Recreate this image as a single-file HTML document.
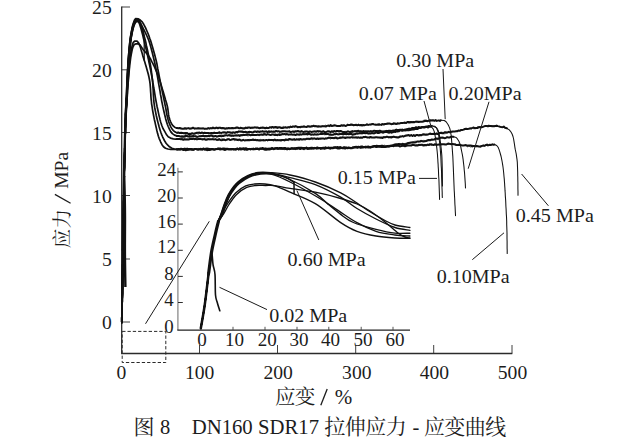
<!DOCTYPE html>
<html lang="zh">
<head>
<meta charset="utf-8">
<title>图 8 DN160 SDR17 拉伸应力 - 应变曲线</title>
<style>
html,body{margin:0;padding:0;background:#fff;}
body{width:631px;height:443px;overflow:hidden;font-family:"Liberation Serif",serif;}
svg{display:block;}
svg text{font-family:"Liberation Serif","Noto Serif CJK SC",serif;}
</style>
</head>
<body>
<svg width="631" height="443" viewBox="0 0 631 443" role="img" aria-label="图 8 DN160 SDR17 拉伸应力 - 应变曲线">
<rect width="631" height="443" fill="#fff"/>
<g fill="none" stroke="#2b2b2b" stroke-width="0.9">
<path d="M121.7 6.5V353.5H512.3" stroke-width="1.3"/>
<path d="M121.7 7.0H130"/>
<path d="M121.7 69.8H130"/>
<path d="M121.7 132.5H130"/>
<path d="M121.7 195.5H130"/>
<path d="M121.7 259.0H130"/>
<path d="M121.7 322.0H130"/>
<path d="M199.5 353.5V345"/>
<path d="M277.5 353.5V345"/>
<path d="M355.7 353.5V345"/>
<path d="M433.7 353.5V345"/>
<path d="M512.0 353.5V345"/>
</g>
<g fill="none" stroke-width="1">
<path d="M177.9 167.7V330" stroke="#8a8a8a" stroke-width="1.3"/>
<path d="M177.3 330.1H410" stroke="#222" stroke-width="1.3"/>
<path d="M178 171.9H182.8" stroke="#222" stroke-width="0.95"/>
<path d="M178 198.0H182.8" stroke="#222" stroke-width="0.95"/>
<path d="M178 224.1H182.8" stroke="#222" stroke-width="0.95"/>
<path d="M178 250.3H182.8" stroke="#222" stroke-width="0.95"/>
<path d="M178 276.4H182.8" stroke="#222" stroke-width="0.95"/>
<path d="M178 302.5H182.8" stroke="#222" stroke-width="0.95"/>
<path d="M201.0 330V326.8" stroke="#444" stroke-width="0.9"/>
<path d="M233.0 330V326.8" stroke="#444" stroke-width="0.9"/>
<path d="M265.0 330V326.8" stroke="#444" stroke-width="0.9"/>
<path d="M297.0 330V326.8" stroke="#444" stroke-width="0.9"/>
<path d="M328.8 330V326.8" stroke="#444" stroke-width="0.9"/>
<path d="M361.2 330V326.8" stroke="#444" stroke-width="0.9"/>
<path d="M393.0 330V326.8" stroke="#444" stroke-width="0.9"/>
</g>
<path d="M122.2 331.4H165.8V362.5H122.2Z" fill="none" stroke="#2a2a2a" stroke-width="1" stroke-dasharray="3.3 2"/>
<g fill="none" stroke="#111" stroke-width="1.25" stroke-linejoin="round" stroke-linecap="round">
<path d="M200.8 328.2 C201.5 324.2 203.5 313.7 204.8 304.5 C206.1 295.3 207.6 281.7 208.7 272.9 C209.8 264.1 210.5 258.3 211.6 251.8 C212.7 245.3 214.3 239.1 215.4 234.0 C216.5 228.9 217.4 224.9 218.4 221.5 C219.4 218.1 220.1 216.4 221.1 213.4 C222.1 210.4 223.2 206.9 224.4 203.7 C225.6 200.5 226.9 197.2 228.4 194.4 C229.9 191.7 231.5 189.3 233.1 187.2 C234.7 185.1 235.7 183.6 238.1 181.7 C240.5 179.8 244.3 177.1 247.6 175.6 C251.0 174.1 254.3 173.0 258.2 172.5 C262.1 172.0 265.5 172.2 270.8 172.6 C276.1 173.0 282.6 173.4 290.0 175.0 C297.4 176.6 306.9 179.0 315.3 182.0 C323.8 185.0 333.8 189.3 340.7 192.8 C347.6 196.3 352.1 199.8 357.0 203.0 C361.9 206.2 365.3 208.9 370.0 211.8 C374.7 214.7 380.8 218.3 385.0 220.5 C389.2 222.7 390.9 223.8 395.0 225.0 C399.1 226.2 407.4 227.1 409.9 227.5" stroke-width="1.35"/>
<path d="M200.8 328.2 C201.5 324.2 203.5 313.7 204.8 304.5 C206.1 295.3 207.6 281.7 208.7 272.9 C209.8 264.1 210.5 258.3 211.6 251.8 C212.7 245.3 214.3 239.1 215.4 234.0 C216.5 228.9 217.4 224.8 218.4 221.5 C219.4 218.2 220.4 216.8 221.5 213.9 C222.6 211.0 223.6 207.4 224.8 204.2 C226.0 201.0 227.3 197.7 228.8 194.9 C230.2 192.2 231.9 189.8 233.5 187.7 C235.1 185.6 236.1 184.1 238.5 182.2 C240.9 180.3 244.7 177.6 248.0 176.1 C251.3 174.6 254.7 173.5 258.6 173.0 C262.5 172.5 266.0 172.3 271.2 173.1 C276.4 173.9 282.6 175.7 290.0 177.6 C297.4 179.5 306.9 181.3 315.3 184.6 C323.8 187.9 333.8 193.2 340.7 197.2 C347.6 201.2 351.1 204.9 357.0 208.5 C362.9 212.1 369.7 215.8 376.0 219.0 C382.3 222.2 389.4 225.6 395.0 227.5 C400.6 229.4 407.4 229.8 409.9 230.3" stroke-width="1.35"/>
<path d="M200.8 328.2 C201.5 324.2 203.5 313.7 204.8 304.5 C206.1 295.3 207.6 281.7 208.7 272.9 C209.8 264.1 210.5 258.3 211.6 251.8 C212.7 245.3 214.3 239.1 215.4 234.0 C216.5 228.9 217.3 224.8 218.4 221.5 C219.5 218.2 220.8 217.3 221.9 214.5 C223.0 211.7 224.0 208.0 225.2 204.8 C226.4 201.6 227.8 198.2 229.2 195.5 C230.6 192.8 232.3 190.4 233.9 188.3 C235.5 186.2 236.5 184.7 238.9 182.8 C241.3 180.9 245.1 178.2 248.4 176.7 C251.8 175.2 255.1 174.1 259.0 173.6 C262.9 173.1 266.4 172.7 271.6 173.7 C276.8 174.7 282.7 176.2 290.0 179.5 C297.3 182.8 309.0 189.3 315.3 193.4 C321.6 197.5 323.8 200.7 328.0 204.2 C332.2 207.7 336.5 211.3 340.7 214.4 C344.9 217.5 347.5 220.0 353.4 222.5 C359.3 225.0 369.1 227.6 376.0 229.4 C382.9 231.2 389.4 232.6 395.0 233.2 C400.6 233.8 407.4 233.2 409.9 233.2" stroke-width="1.35"/>
<path d="M200.8 328.2 C201.5 324.2 203.5 313.7 204.8 304.5 C206.1 295.3 207.6 281.7 208.7 272.9 C209.8 264.1 210.5 258.3 211.6 251.8 C212.7 245.3 214.3 239.1 215.4 234.0 C216.5 228.9 217.2 224.6 218.4 221.5 C219.6 218.4 221.1 217.9 222.3 215.2 C223.5 212.5 224.4 208.7 225.6 205.5 C226.8 202.3 228.1 198.9 229.6 196.2 C231.1 193.4 232.7 191.1 234.3 189.0 C235.9 186.9 236.9 185.4 239.3 183.5 C241.7 181.6 245.5 178.9 248.8 177.4 C252.2 175.9 255.5 174.8 259.4 174.3 C263.3 173.8 266.9 173.1 272.0 174.4 C277.1 175.7 282.2 178.1 290.0 182.0 C297.8 185.9 311.0 193.3 319.0 198.0 C327.0 202.7 331.7 206.3 338.0 210.4 C344.3 214.5 350.7 219.2 357.0 222.7 C363.3 226.2 369.7 229.2 376.0 231.3 C382.3 233.4 389.4 234.2 395.0 235.0 C400.6 235.8 407.4 235.8 409.9 236.0" stroke-width="1.35"/>
<path d="M200.8 328.2 C201.5 324.2 203.5 313.7 204.8 304.5 C206.1 295.3 207.6 281.7 208.7 272.9 C209.8 264.1 210.5 258.3 211.6 251.8 C212.7 245.3 214.3 239.1 215.4 234.0 C216.5 228.9 217.4 224.8 218.4 221.5 C219.4 218.2 220.0 217.1 221.6 214.0 C223.2 210.9 225.7 206.5 228.0 203.0 C230.3 199.5 232.7 195.8 235.6 192.9 C238.5 190.1 242.5 187.4 245.7 185.9 C248.9 184.4 251.4 184.3 254.6 184.0 C257.8 183.7 261.3 183.7 264.7 184.0 C268.1 184.3 270.6 184.5 274.8 185.9 C279.0 187.3 283.2 189.2 290.0 192.2 C296.8 195.1 306.9 198.5 315.3 203.6 C323.8 208.7 333.8 218.0 340.7 222.6 C347.6 227.2 351.1 229.1 357.0 231.3 C362.9 233.5 369.7 234.9 376.0 236.0 C382.3 237.1 389.4 237.6 395.0 238.0 C400.6 238.4 407.4 238.2 409.9 238.3" stroke-width="1.35"/>
<path d="M200.8 328.2 C201.5 324.2 203.5 313.7 204.8 304.5 C206.1 295.3 207.6 281.7 208.7 272.9 C209.8 264.1 210.5 258.3 211.6 251.8 C212.7 245.3 214.3 239.1 215.4 234.0 C216.5 228.9 217.2 224.6 218.4 221.5 C219.6 218.4 220.8 218.3 222.6 215.5 C224.4 212.7 226.7 208.0 229.0 204.5 C231.3 201.0 233.7 197.2 236.6 194.4 C239.5 191.6 243.5 188.9 246.7 187.4 C249.9 185.9 252.4 185.8 255.6 185.5 C258.8 185.2 262.5 185.5 265.7 185.5 C268.9 185.5 270.8 185.1 274.8 185.6 C278.9 186.1 283.2 187.3 290.0 188.4 C296.8 189.5 306.9 190.5 315.3 192.2 C323.8 193.9 333.8 196.5 340.7 198.5 C347.6 200.5 352.1 201.9 357.0 204.0 C361.9 206.1 365.3 208.0 370.0 211.0 C374.7 214.0 380.3 218.3 385.0 222.0 C389.7 225.7 394.7 230.5 398.0 233.0 C401.3 235.5 403.0 236.2 405.0 237.0 C407.0 237.8 409.1 237.8 409.9 238.0" stroke-width="1.35"/>
<path d="M200.8 328.2 C201.5 324.2 203.5 313.7 204.8 304.5 C206.1 295.3 207.6 281.7 208.7 272.9 C209.8 264.1 210.5 258.3 211.6 251.8 C212.7 245.3 214.3 239.1 215.4 234.0 C216.5 228.9 217.3 224.8 218.4 221.5 C219.5 218.2 220.6 217.1 221.7 214.3 C222.8 211.5 223.8 207.8 225.0 204.6 C226.2 201.4 227.6 198.1 229.0 195.3 C230.4 192.6 232.1 190.2 233.7 188.1 C235.3 186.0 236.3 184.5 238.7 182.6 C241.1 180.7 244.9 178.0 248.2 176.5 C251.6 175.0 254.9 173.9 258.8 173.4 C262.7 172.9 267.0 172.9 271.4 173.5 C275.8 174.1 281.2 175.7 285.0 177.2 C288.8 178.7 292.5 181.5 294.0 182.3" stroke-width="1.35"/>
<path d="M200.8 328.2 C201.5 324.2 203.5 313.7 204.8 304.5 C206.1 295.3 207.6 281.4 208.7 272.9 C209.8 264.4 210.9 254.8 211.6 253.5 C212.3 252.2 212.5 261.5 213.1 265.0 C213.7 268.5 214.6 269.5 215.0 274.5 C215.4 279.5 215.1 290.2 215.5 295.0 C215.9 299.8 216.7 300.4 217.4 303.0 C218.1 305.6 219.4 309.5 219.8 310.8" stroke-width="1.6"/>
<path d="M200.8 328.2 C201.5 324.2 203.5 313.7 204.8 304.5 C206.1 295.3 208.0 278.2 208.7 272.9" stroke-width="2.5"/>
<path d="M208.7 272.9 C209.2 269.4 210.5 258.3 211.6 251.8 C212.7 245.3 214.3 239.1 215.4 234.0 C216.5 228.9 217.9 223.6 218.4 221.5" stroke-width="3.2"/>
<path d="M218.4 221.5 C219.0 220.3 220.7 217.0 221.8 214.2 C222.9 211.4 224.0 207.7 225.2 204.5 C226.4 201.3 228.5 196.8 229.2 195.3" stroke-width="2.5"/>
<path d="M294.0 182.3 L294.1 193.7" stroke-width="1.5"/>
<path d="M121.8 322.4 L121.8 321.1 L121.8 319.5 L121.8 317.8 L121.9 316.0 L121.9 313.9 L122.0 311.7 L122.0 309.4 L122.1 307.0 L122.1 304.4 L122.2 301.8 L122.2 299.1 L122.3 296.3 L122.4 293.5 L122.4 290.6 L122.5 287.7 L122.5 284.8 L122.6 281.9 L122.6 279.0 L122.7 276.2 L122.7 274.0 L122.7 271.8 L122.8 269.5 L122.8 267.1 L122.8 264.7 L122.9 262.3 L122.9 259.8 L123.0 257.3 L123.0 254.7 L123.0 252.1 L123.1 249.6 L123.1 247.0 L123.1 244.4 L123.2 241.8 L123.2 239.2 L123.2 236.6 L123.3 234.1 L123.3 231.6 L123.3 229.1 L123.4 226.7 L123.4 224.4 L123.4 222.1 L123.5 219.8 L123.5 217.6 L123.5 215.5 L123.6 213.0 L123.6 210.1 L123.7 207.3 L123.7 204.6 L123.7 202.0 L123.8 199.5 L123.8 197.0 L123.9 194.6 L123.9 192.2 L123.9 190.0 L124.0 187.7 L124.0 185.5 L124.0 183.3 L124.1 181.1 L124.1 178.9 L124.2 176.7 L124.2 174.5 L124.2 172.0 L124.3 169.3 L124.4 166.6 L124.4 164.0 L124.5 161.4 L124.6 158.8 L124.6 156.2 L124.7 153.7 L124.8 151.2 L124.8 148.8 L124.9 146.4 L124.9 144.1 L125.0 141.9 L125.1 139.7 L125.1 137.2 L125.2 134.3 L125.3 131.6 L125.3 128.9 L125.4 126.4 L125.5 124.0 L125.5 121.6 L125.6 119.4 L125.7 117.3 L125.7 115.2 L125.8 112.7 L125.9 110.1 L126.0 107.8 L126.2 105.7 L126.3 103.5 L126.4 101.0 L126.6 98.5 L126.8 96.2 L126.9 93.7 L127.1 91.2 L127.3 88.5 L127.5 85.9 L127.7 83.2 L127.9 80.6 L128.1 78.2 L128.3 75.6 L128.5 73.0 L128.7 70.4 L129.0 67.8 L129.2 65.3 L129.4 62.9 L129.7 60.6 L129.9 58.5 L130.4 55.5 L130.8 52.6 L131.3 50.0 L131.7 47.6 L132.2 45.6 L133.1 42.7 L134.6 41.1 L137.0 41.1 L138.6 42.8 L139.8 45.6 L140.5 47.5 L141.1 49.8 L141.9 52.4 L142.7 55.4 L143.5 58.0 L144.1 60.0 L144.8 62.1 L145.5 64.4 L146.2 66.8 L146.9 69.2 L147.6 71.7 L148.3 74.2 L148.9 76.8 L149.4 79.3 L149.8 81.6 L150.1 84.0 L150.3 86.4 L150.5 88.9 L150.6 91.3 L150.8 93.8 L150.9 96.3 L151.1 98.8 L151.4 101.3 L151.6 103.8 L152.0 106.2 L152.4 108.8 L152.8 111.3 L153.3 114.0 L153.8 116.6 L154.3 119.2 L154.9 121.7 L155.4 124.1 L155.9 126.3 L156.4 128.4 L156.8 130.3 L157.6 133.6 L158.4 136.2 L159.1 138.3 L159.9 140.1 L160.6 141.8 L162.0 144.7 L163.5 146.7 L165.5 148.2 L167.9 149.0 L170.8 149.4 L173.2 149.5 L175.9 149.4 L177.2 149.4" stroke-width="1.7"/>
<path d="M177.2 149.4 L178.6 149.0 L180.0 149.4 L181.2 148.7 L182.4 149.1 L183.5 148.9 L184.7 148.6 L186.0 149.0 L187.2 148.6 L188.6 149.1 L190.0 148.9 L191.1 149.0 L192.2 149.3 L193.4 149.7 L194.6 149.0 L195.8 149.1 L197.1 149.4 L198.3 149.6 L199.6 149.1 L200.9 148.8 L202.1 149.4 L203.3 148.4 L204.5 149.2 L205.8 148.7 L207.0 148.6 L208.2 148.7 L209.4 149.0 L210.6 149.5 L211.8 148.9 L213.0 149.4 L214.2 149.4 L215.5 149.1 L216.7 149.1 L217.9 148.6 L219.1 148.5 L220.3 148.5 L221.5 148.9 L222.7 148.6 L223.9 148.5 L225.2 148.8 L226.4 148.8 L227.6 148.7 L228.8 149.3 L230.0 149.3 L231.2 148.9 L232.4 149.2 L233.6 149.1 L234.8 149.4 L236.1 149.2 L237.3 148.6 L238.5 149.2 L239.7 148.3 L240.9 148.5 L242.1 148.8 L243.3 148.2 L244.5 148.6 L245.8 148.2 L247.0 148.9 L248.2 149.1 L249.4 149.0 L250.6 149.3 L251.8 148.8 L253.0 149.2 L254.2 149.0 L255.5 148.9 L256.7 148.7 L257.9 149.0 L259.1 149.0 L260.3 148.4 L261.5 148.6 L262.7 148.0 L263.9 148.7 L265.2 148.7 L266.4 149.1 L267.6 149.0 L268.8 148.6 L270.0 148.7 L271.2 149.0 L272.4 148.3 L273.6 148.7 L274.8 148.3 L276.1 148.2 L277.3 148.0 L278.5 148.6 L279.7 147.9 L280.9 148.0 L282.1 148.1 L283.3 148.6 L284.5 147.9 L285.8 148.3 L287.0 148.5 L288.2 148.9 L289.4 148.9 L290.6 149.0 L291.8 148.3 L293.0 148.4 L294.2 148.3 L295.5 148.7 L296.7 148.7 L297.9 147.8 L299.1 147.7 L300.3 147.7 L301.5 147.7 L302.7 148.0 L303.9 148.1 L305.2 147.9 L306.4 147.7 L307.6 148.2 L308.8 148.2 L310.0 148.4 L311.2 148.8 L312.4 148.5 L313.6 148.2 L314.8 148.2 L316.1 148.1 L317.3 147.4 L318.5 148.2 L319.7 148.0 L320.9 148.1 L322.1 148.0 L323.3 147.7 L324.5 147.8 L325.8 147.6 L327.0 148.2 L328.2 147.6 L329.4 147.7 L330.6 147.8 L331.8 147.7 L333.0 147.8 L334.2 147.4 L335.5 147.2 L336.7 147.3 L337.9 147.1 L339.1 147.4 L340.3 147.0 L341.5 147.9 L342.7 147.7 L343.9 147.3 L345.2 147.5 L346.4 147.7 L347.6 147.7 L348.8 147.5 L350.0 148.2 L351.2 148.3 L352.4 147.6 L353.6 147.5 L354.8 146.9 L356.1 146.8 L357.3 146.9 L358.5 146.7 L359.7 147.2 L360.9 146.5 L362.1 146.4 L363.3 147.3 L364.5 146.9 L365.8 146.6 L367.0 147.0 L368.2 146.5 L369.4 146.9 L370.6 147.3 L371.8 147.0 L373.0 146.7 L374.2 146.1 L375.5 146.1 L376.7 145.7 L377.9 146.2 L379.1 145.9 L380.3 146.2 L381.4 145.8 L382.6 145.7 L383.8 146.3 L385.0 146.5 L386.2 146.4 L387.5 146.4 L388.7 146.3 L390.0 146.1 L391.2 145.4 L392.4 145.4 L393.6 145.0 L394.9 144.4 L396.1 144.2 L397.4 144.2 L398.7 144.0 L399.9 144.3 L401.2 144.4 L402.5 143.8 L403.7 144.2 L405.0 144.2 L406.2 144.1 L407.4 143.3 L408.6 143.0 L409.8 142.8 L411.0 142.6 L412.2 142.3 L413.4 142.5 L414.6 142.5 L415.9 142.2 L417.2 141.6 L418.6 141.6 L420.0 141.6 L421.1 140.8 L422.3 141.3 L423.5 141.4 L424.8 141.2 L426.1 141.0 L427.4 140.5 L428.8 140.0 L430.1 140.3 L431.4 139.5 L432.8 139.7 L434.1 139.6 L435.3 138.7 L436.6 138.5 L437.8 138.8 L438.9 138.5 L440.0 137.8 L441.5 137.7 L443.0 137.6 L444.4 138.2 L445.7 138.0 L447.1 137.1 L448.3 137.6 L449.5 137.6 L450.6 137.0 L451.6 136.6 L452.6 136.7 L453.4 136.7" stroke-width="2"/>
<path d="M181.2 148.2 L182.4 149.4 L183.5 149.5 L184.7 150.1 L186.0 149.1 L187.2 148.7 L188.6 149.4 L190.0 149.0 L191.1 150.1 L192.2 149.1 L193.4 149.4 L194.6 150.1 L195.8 149.2 L197.1 148.9 L198.3 148.4 L199.6 149.8 L200.9 149.1 L202.1 149.1 L203.3 149.1 L204.5 149.3 L205.8 149.2 L207.0 148.6 L208.2 149.1 L209.4 149.2 L210.6 149.0 L211.8 149.0 L213.0 149.1 L214.2 149.0 L215.5 149.3 L216.7 149.2 L217.9 148.8 L219.1 149.2 L220.3 148.8 L221.5 148.8 L222.7 148.4 L223.9 149.3 L225.2 149.2 L226.4 149.4 L227.6 148.7 L228.8 149.2 L230.0 149.9 L231.2 148.9 L232.4 149.1 L233.6 148.7 L234.8 148.8 L236.1 148.4 L237.3 148.6 L238.5 148.8 L239.7 148.4 L240.9 148.8 L242.1 149.9 L243.3 149.1 L244.5 148.3 L245.8 149.4 L247.0 147.9 L248.2 149.7 L249.4 148.6 L250.6 149.7 L251.8 148.9 L253.0 147.7 L254.2 148.7 L255.5 149.7 L256.7 148.9 L257.9 149.5 L259.1 149.5 L260.3 148.6 L261.5 148.9 L262.7 147.8 L263.9 148.5 L265.2 147.9 L266.4 147.9 L267.6 148.2 L268.8 148.5 L270.0 148.4 L271.2 147.5 L272.4 147.5 L273.6 148.6 L274.8 148.5 L276.1 148.3 L277.3 148.5 L278.5 148.7 L279.7 148.5 L280.9 148.8 L282.1 149.2 L283.3 148.5 L284.5 148.1 L285.8 147.6 L287.0 148.9 L288.2 147.6 L289.4 149.1 L290.6 148.4 L291.8 147.7 L293.0 148.2 L294.2 148.2 L295.5 149.3 L296.7 148.3 L297.9 149.3 L299.1 147.9 L300.3 147.9 L301.5 148.2 L302.7 148.2 L303.9 147.6 L305.2 147.9 L306.4 147.0 L307.6 147.5 L308.8 148.1 L310.0 148.2 L311.2 148.3 L312.4 147.7 L313.6 147.8 L314.8 148.1 L316.1 148.8 L317.3 148.1 L318.5 148.2 L319.7 148.0 L320.9 148.2 L322.1 148.1 L323.3 148.2 L324.5 148.0 L325.8 146.8 L327.0 147.6 L328.2 148.6 L329.4 147.9 L330.6 148.0 L331.8 147.5 L333.0 148.0 L334.2 147.8 L335.5 147.5 L336.7 147.6 L337.9 147.2 L339.1 147.6 L340.3 148.0 L341.5 147.7 L342.7 147.8 L343.9 147.8 L345.2 147.4 L346.4 147.1 L347.6 147.5 L348.8 147.3 L350.0 147.1 L351.2 147.7 L352.4 147.4 L353.6 147.4 L354.8 147.2 L356.1 147.2 L357.3 147.5 L358.5 147.1 L359.7 147.4 L360.9 146.5 L362.1 148.0 L363.3 147.1 L364.5 146.9 L365.8 146.6 L367.0 146.8 L368.2 146.8 L369.4 147.5 L370.6 146.3 L371.8 146.5 L373.0 146.3 L374.2 146.0 L375.5 147.1 L376.7 146.8 L377.9 146.0 L379.1 146.3 L380.3 146.0 L381.4 145.8 L382.6 146.1 L383.8 145.8 L385.0 144.9 L386.2 146.7 L387.5 146.8 L388.7 145.2 L390.0 145.4 L391.2 146.5 L392.4 145.5 L393.6 145.4 L394.9 145.0 L396.1 144.6 L397.4 144.6 L398.7 144.6 L399.9 143.2 L401.2 143.9 L402.5 143.8 L403.7 144.3 L405.0 143.4 L406.2 143.3 L407.4 143.2 L408.6 142.3 L409.8 143.8 L411.0 142.6 L412.2 142.9 L413.4 141.6 L414.6 141.3 L415.9 141.2 L417.2 141.4 L418.6 141.9 L420.0 141.4 L421.1 141.4 L422.3 140.8 L423.5 140.4 L424.8 140.5 L426.1 140.6 L427.4 140.1 L428.8 139.5 L430.1 139.7 L431.4 139.9 L432.8 139.1 L434.1 139.7 L435.3 139.0 L436.6 138.5 L437.8 139.6 L438.9 138.7 L440.0 138.1 L441.5 137.3 L443.0 138.0 L444.4 137.8" stroke-width="0.8" stroke-opacity="0.85"/>
<path d="M453.4 136.7 L456.2 137.5 L457.6 139.2 L458.9 141.3 L460.0 144.0 L460.7 146.4 L461.2 149.1 L461.8 152.0 L462.3 154.4 L462.7 156.7 L463.1 159.4 L463.4 162.1 L463.7 164.5 L464.0 167.1 L464.2 169.8 L464.5 172.4 L464.7 175.0 L464.9 177.9 L465.1 180.9 L465.3 183.8 L465.4 186.2 L465.5 188.0 L465.5 188.0" stroke-width="1.05"/>
<path d="M121.8 322.4 L121.8 321.1 L121.8 319.5 L121.8 317.8 L121.9 316.0 L121.9 313.9 L122.0 311.7 L122.0 309.4 L122.1 307.0 L122.1 304.4 L122.2 301.8 L122.2 299.1 L122.3 296.3 L122.4 293.5 L122.4 290.6 L122.5 287.7 L122.5 284.8 L122.6 281.9 L122.6 279.0 L122.7 276.2 L122.7 274.0 L122.7 271.8 L122.8 269.5 L122.8 267.1 L122.8 264.7 L122.9 262.3 L122.9 259.8 L123.0 257.3 L123.0 254.7 L123.0 252.1 L123.1 249.6 L123.1 247.0 L123.1 244.4 L123.2 241.8 L123.2 239.2 L123.2 236.6 L123.3 234.1 L123.3 231.6 L123.3 229.1 L123.4 226.7 L123.4 224.4 L123.4 222.1 L123.5 219.8 L123.5 217.6 L123.5 215.5 L123.6 213.0 L123.6 210.1 L123.7 207.3 L123.7 204.6 L123.7 202.0 L123.8 199.5 L123.8 197.0 L123.9 194.6 L123.9 192.2 L123.9 190.0 L124.0 187.7 L124.0 185.5 L124.0 183.3 L124.1 181.1 L124.1 178.9 L124.2 176.7 L124.2 174.5 L124.2 172.0 L124.3 169.3 L124.4 166.6 L124.4 164.0 L124.5 161.4 L124.6 158.8 L124.6 156.2 L124.7 153.7 L124.8 151.2 L124.8 148.8 L124.9 146.4 L124.9 144.1 L125.0 141.9 L125.1 139.7 L125.1 137.2 L125.2 134.3 L125.3 131.6 L125.3 128.9 L125.4 126.4 L125.5 123.9 L125.5 121.6 L125.6 119.3 L125.7 117.2 L125.7 115.2 L125.8 112.6 L126.0 109.9 L126.1 107.6 L126.3 105.5 L126.5 103.2 L126.6 100.6 L126.7 98.3 L126.8 95.9 L126.9 93.4 L127.0 90.7 L127.1 88.1 L127.2 85.5 L127.3 82.9 L127.5 80.4 L127.6 77.9 L127.7 75.4 L127.8 72.9 L128.0 70.4 L128.1 68.0 L128.2 65.7 L128.4 63.5 L128.6 60.7 L128.8 58.0 L129.0 55.4 L129.2 53.0 L129.4 50.6 L129.7 48.0 L129.9 45.3 L130.2 42.7 L130.5 40.1 L130.9 37.6 L131.4 35.1 L131.8 32.5 L132.3 30.0 L132.8 27.8 L133.6 25.2 L134.6 22.5 L135.7 20.8 L138.7 21.0 L139.5 22.3 L140.3 24.0 L141.2 26.1 L142.2 28.9 L143.2 32.3 L143.7 34.1 L144.2 36.2 L144.8 38.4 L145.4 40.8 L146.0 43.3 L146.5 45.9 L147.1 48.5 L147.7 51.1 L148.2 53.6 L148.7 56.1 L149.2 58.4 L149.7 60.8 L150.1 63.5 L150.6 66.0 L151.0 68.4 L151.3 70.7 L151.6 73.0 L151.9 75.4 L152.2 77.9 L152.5 80.5 L152.7 82.8 L152.9 85.2 L153.0 87.6 L153.2 90.1 L153.3 92.6 L153.4 95.2 L153.6 97.7 L153.7 100.2 L154.0 102.6 L154.3 105.0 L154.7 107.5 L155.2 110.1 L155.7 112.7 L156.2 115.2 L156.8 117.8 L157.4 120.2 L158.0 122.6 L158.6 124.8 L159.1 126.8 L159.9 129.4 L160.8 132.2 L161.7 134.6 L162.6 136.8 L163.5 138.7 L164.4 140.5 L166.1 143.2 L167.8 145.2 L169.5 146.8 L171.9 148.3 L174.6 149.0 L176.9 149.3 L176.9 149.3" stroke-width="1.7"/>
<path d="M176.9 149.3 L178.1 149.5 L179.4 149.2 L180.7 149.5 L182.0 149.1 L183.2 150.0 L184.4 149.5 L185.6 150.3 L186.9 150.0 L188.4 149.7 L190.0 149.4 L191.0 149.5 L192.1 149.8 L193.3 149.7 L194.5 149.0 L195.7 148.9 L197.0 149.3 L198.3 149.4 L199.6 149.2 L200.8 149.1 L202.1 149.6 L203.3 149.1 L204.5 149.5 L205.8 149.7 L207.0 150.2 L208.2 149.8 L209.4 150.0 L210.6 149.5 L211.8 149.2 L213.0 149.1 L214.2 149.7 L215.5 149.4 L216.7 149.0 L217.9 148.7 L219.1 149.2 L220.3 149.4 L221.5 149.3 L222.7 149.2 L223.9 149.7 L225.2 150.0 L226.4 149.3 L227.6 149.1 L228.8 149.3 L230.0 149.3 L231.2 149.5 L232.4 148.9 L233.6 149.4 L234.8 149.3 L236.1 149.0 L237.3 148.7 L238.5 149.5 L239.7 148.9 L240.9 149.5 L242.1 149.0 L243.3 149.1 L244.5 149.7 L245.8 149.2 L247.0 149.9 L248.2 149.4 L249.4 149.0 L250.6 148.9 L251.8 149.0 L253.0 149.1 L254.2 149.3 L255.5 148.5 L256.7 148.8 L257.9 148.6 L259.1 149.4 L260.3 148.7 L261.5 148.7 L262.7 148.8 L263.9 149.2 L265.2 149.7 L266.4 149.7 L267.6 149.5 L268.8 149.6 L270.0 149.5 L271.2 148.8 L272.4 148.5 L273.6 149.2 L274.8 148.9 L276.1 148.2 L277.3 148.9 L278.5 148.6 L279.7 148.7 L280.9 148.7 L282.1 148.7 L283.3 148.5 L284.5 148.8 L285.8 148.9 L287.0 149.4 L288.2 148.5 L289.4 149.2 L290.6 148.4 L291.8 148.4 L293.0 148.8 L294.2 148.7 L295.5 148.3 L296.7 148.0 L297.9 148.5 L299.1 148.4 L300.3 149.1 L301.5 148.4 L302.7 148.6 L303.9 149.2 L305.2 148.3 L306.4 148.6 L307.6 148.9 L308.8 148.8 L310.0 147.9 L311.2 147.8 L312.4 147.8 L313.6 148.6 L314.8 147.9 L316.1 148.4 L317.3 148.6 L318.5 148.1 L319.7 148.1 L320.9 148.9 L322.1 148.6 L323.3 148.3 L324.5 148.7 L325.8 148.3 L327.0 148.1 L328.2 147.8 L329.4 148.4 L330.6 148.4 L331.8 148.1 L333.0 148.3 L334.2 147.4 L335.5 147.6 L336.7 147.9 L337.9 148.5 L339.1 148.6 L340.3 148.1 L341.5 148.0 L342.7 148.2 L343.9 148.2 L345.2 148.6 L346.4 147.8 L347.6 148.3 L348.8 148.1 L350.0 148.1 L351.2 147.9 L352.4 147.7 L353.6 147.4 L354.8 147.3 L356.1 147.4 L357.3 147.8 L358.5 147.2 L359.7 147.3 L360.9 147.9 L362.1 147.4 L363.3 147.2 L364.5 147.1 L365.8 147.5 L367.0 147.1 L368.2 147.6 L369.4 147.4 L370.6 147.4 L371.8 146.6 L373.0 146.3 L374.2 146.3 L375.5 146.7 L376.7 147.0 L377.9 146.8 L379.1 146.6 L380.3 146.8 L381.4 147.0 L382.6 147.0 L383.8 147.0 L385.0 147.0 L386.2 146.7 L387.5 146.0 L388.7 146.6 L390.0 145.9 L391.2 146.1 L392.4 145.8 L393.6 146.2 L394.9 145.6 L396.1 145.7 L397.4 145.8 L398.7 145.7 L399.9 146.5 L401.2 146.1 L402.5 145.8 L403.7 145.8 L405.0 146.3 L406.2 145.6 L407.5 145.2 L408.8 145.6 L410.0 145.4 L411.2 145.6 L412.5 144.7 L413.8 145.0 L415.0 145.4 L416.2 145.5 L417.5 145.6 L418.8 144.8 L420.0 145.0 L421.2 144.8 L422.5 144.8 L423.8 145.5 L425.0 145.0 L426.2 145.3 L427.5 144.6 L428.8 145.0 L430.0 144.5 L431.2 144.2 L432.5 144.8 L433.8 145.0 L435.0 144.2 L436.3 144.7 L437.5 144.8 L438.8 144.4 L440.1 144.6 L441.4 144.3 L442.7 144.3 L443.9 144.2 L445.2 144.5 L446.4 144.4 L447.6 143.8 L448.8 143.6 L450.0 143.9 L451.4 144.3 L452.7 143.9 L453.9 144.2 L455.2 144.3 L456.4 145.1 L457.6 145.0 L458.8 144.7 L460.0 144.9 L461.3 145.3 L462.5 145.5 L463.7 145.6 L465.0 145.1 L466.2 145.2 L467.5 145.7 L468.7 145.5 L470.0 145.5 L471.2 145.6 L472.5 146.4 L473.7 145.9 L475.0 146.3 L476.3 146.1 L477.7 146.2 L479.1 146.6 L480.5 146.7 L481.9 145.9 L483.3 145.5 L484.6 145.8 L485.8 145.0 L487.0 144.6 L488.0 145.4 L489.8 144.7 L491.2 144.9 L492.4 144.3 L493.4 144.8 L494.4 144.5" stroke-width="2"/>
<path d="M180.7 149.4 L182.0 149.7 L183.2 149.9 L184.4 149.9 L185.6 149.7 L186.9 149.1 L188.4 149.9 L190.0 149.6 L191.0 149.9 L192.1 148.7 L193.3 149.9 L194.5 149.3 L195.7 149.5 L197.0 149.6 L198.3 149.3 L199.6 149.4 L200.8 150.3 L202.1 149.3 L203.3 149.3 L204.5 149.4 L205.8 148.9 L207.0 149.7 L208.2 149.6 L209.4 149.2 L210.6 149.2 L211.8 149.5 L213.0 149.3 L214.2 149.6 L215.5 149.8 L216.7 149.3 L217.9 149.7 L219.1 149.2 L220.3 149.5 L221.5 149.2 L222.7 149.1 L223.9 149.2 L225.2 149.2 L226.4 149.1 L227.6 149.1 L228.8 149.5 L230.0 149.0 L231.2 149.2 L232.4 149.1 L233.6 149.6 L234.8 149.5 L236.1 150.4 L237.3 149.5 L238.5 149.0 L239.7 149.5 L240.9 148.9 L242.1 149.0 L243.3 149.1 L244.5 149.0 L245.8 149.4 L247.0 148.6 L248.2 149.1 L249.4 148.4 L250.6 150.1 L251.8 149.4 L253.0 149.8 L254.2 149.2 L255.5 149.0 L256.7 149.1 L257.9 149.3 L259.1 150.2 L260.3 149.0 L261.5 148.9 L262.7 149.1 L263.9 149.7 L265.2 148.3 L266.4 148.8 L267.6 148.9 L268.8 149.3 L270.0 149.1 L271.2 147.8 L272.4 148.2 L273.6 148.9 L274.8 149.2 L276.1 148.3 L277.3 148.6 L278.5 148.6 L279.7 148.5 L280.9 149.0 L282.1 148.7 L283.3 148.8 L284.5 149.8 L285.8 148.0 L287.0 149.1 L288.2 148.9 L289.4 148.2 L290.6 149.1 L291.8 148.6 L293.0 148.6 L294.2 148.8 L295.5 149.6 L296.7 148.7 L297.9 148.0 L299.1 149.2 L300.3 148.7 L301.5 148.4 L302.7 148.8 L303.9 148.6 L305.2 148.3 L306.4 148.0 L307.6 149.4 L308.8 148.6 L310.0 149.2 L311.2 148.4 L312.4 148.4 L313.6 147.5 L314.8 147.3 L316.1 148.9 L317.3 148.6 L318.5 148.2 L319.7 148.3 L320.9 148.3 L322.1 148.6 L323.3 148.1 L324.5 148.0 L325.8 147.6 L327.0 148.5 L328.2 148.1 L329.4 148.1 L330.6 149.1 L331.8 148.3 L333.0 148.4 L334.2 148.3 L335.5 148.3 L336.7 148.6 L337.9 148.0 L339.1 148.3 L340.3 149.0 L341.5 146.9 L342.7 149.0 L343.9 147.2 L345.2 146.9 L346.4 148.1 L347.6 148.1 L348.8 148.1 L350.0 148.6 L351.2 148.1 L352.4 148.7 L353.6 148.0 L354.8 147.1 L356.1 146.6 L357.3 147.8 L358.5 147.8 L359.7 147.4 L360.9 146.5 L362.1 147.2 L363.3 147.2 L364.5 146.8 L365.8 147.8 L367.0 146.8 L368.2 147.2 L369.4 147.2 L370.6 146.9 L371.8 147.7 L373.0 147.4 L374.2 146.8 L375.5 146.6 L376.7 146.6 L377.9 146.1 L379.1 147.0 L380.3 146.7 L381.4 146.8 L382.6 146.6 L383.8 147.3 L385.0 147.5 L386.2 145.8 L387.5 146.4 L388.7 146.7 L390.0 147.0 L391.2 146.4 L392.4 146.1 L393.6 145.9 L394.9 145.8 L396.1 145.8 L397.4 145.4 L398.7 145.9 L399.9 146.8 L401.2 145.7 L402.5 145.9 L403.7 145.8 L405.0 145.3 L406.2 146.4 L407.5 145.7 L408.8 145.3 L410.0 145.5 L411.2 145.3 L412.5 145.1 L413.8 144.8 L415.0 145.4 L416.2 144.4 L417.5 144.7 L418.8 144.8 L420.0 144.3 L421.2 145.1 L422.5 146.0 L423.8 144.6 L425.0 145.0 L426.2 144.8 L427.5 145.1 L428.8 144.1 L430.0 143.7 L431.2 145.4 L432.5 144.7 L433.8 144.7 L435.0 144.9 L436.3 145.2 L437.5 144.5 L438.8 144.7 L440.1 143.9 L441.4 144.7 L442.7 144.5 L443.9 144.5 L445.2 144.3 L446.4 144.6 L447.6 144.1 L448.8 144.4 L450.0 144.2 L451.4 144.2 L452.7 144.4 L453.9 144.7 L455.2 144.9 L456.4 144.6 L457.6 145.1 L458.8 145.0 L460.0 145.7 L461.3 145.2 L462.5 145.4 L463.7 145.5 L465.0 145.6 L466.2 145.6 L467.5 146.8 L468.7 146.3 L470.0 146.6 L471.2 147.2 L472.5 145.1 L473.7 146.0 L475.0 146.0 L476.3 146.6 L477.7 145.6 L479.1 146.6 L480.5 145.9 L481.9 146.5 L483.3 145.0 L484.6 146.2" stroke-width="0.8" stroke-opacity="0.85"/>
<path d="M494.4 144.5 L496.7 145.5 L498.1 147.3 L499.0 149.4 L499.8 151.9 L500.4 154.0 L501.1 156.5 L501.7 159.4 L502.2 162.0 L502.5 163.8 L502.8 165.7 L503.1 167.8 L503.4 170.2 L503.7 173.0 L504.0 176.5 L504.3 179.4 L504.4 181.3 L504.6 183.4 L504.7 185.6 L504.9 188.0 L505.0 190.4 L505.2 193.0 L505.3 195.6 L505.5 198.3 L505.7 200.9 L505.8 203.6 L505.9 206.3 L506.1 209.0 L506.2 211.6 L506.3 214.1 L506.5 216.6 L506.6 218.9 L506.7 221.4 L506.7 224.2 L506.8 227.1 L506.9 230.1 L507.0 233.0 L507.0 235.8 L507.0 238.6 L507.1 241.3 L507.1 243.8 L507.1 246.2 L507.1 248.4 L507.2 250.3 L507.2 252.0 L507.2 253.4 L507.2 253.4" stroke-width="1.05"/>
<path d="M121.8 322.4 L121.8 321.1 L121.8 319.5 L121.8 317.8 L121.9 316.0 L121.9 313.9 L122.0 311.7 L122.0 309.4 L122.1 307.0 L122.1 304.4 L122.2 301.8 L122.2 299.1 L122.3 296.3 L122.4 293.5 L122.4 290.6 L122.5 287.7 L122.5 284.8 L122.6 281.9 L122.6 279.0 L122.7 276.2 L122.7 274.0 L122.7 271.8 L122.8 269.5 L122.8 267.1 L122.8 264.7 L122.9 262.3 L122.9 259.8 L123.0 257.3 L123.0 254.7 L123.0 252.1 L123.1 249.6 L123.1 247.0 L123.1 244.4 L123.2 241.8 L123.2 239.2 L123.2 236.6 L123.3 234.1 L123.3 231.6 L123.3 229.1 L123.4 226.7 L123.4 224.4 L123.4 222.1 L123.5 219.8 L123.5 217.6 L123.5 215.5 L123.6 213.0 L123.6 210.1 L123.7 207.3 L123.7 204.6 L123.7 202.0 L123.8 199.5 L123.8 197.0 L123.9 194.6 L123.9 192.2 L123.9 190.0 L124.0 187.7 L124.0 185.5 L124.0 183.3 L124.1 181.1 L124.1 178.9 L124.2 176.7 L124.2 174.5 L124.2 172.0 L124.3 169.3 L124.4 166.6 L124.4 164.0 L124.5 161.4 L124.6 158.8 L124.6 156.2 L124.7 153.7 L124.8 151.2 L124.8 148.8 L124.9 146.4 L124.9 144.1 L125.0 141.9 L125.1 139.7 L125.1 137.2 L125.2 134.3 L125.3 131.5 L125.3 128.8 L125.4 126.3 L125.5 123.8 L125.5 121.5 L125.6 119.2 L125.7 117.1 L125.7 115.2 L125.9 112.6 L126.0 109.9 L126.2 107.8 L126.4 105.7 L126.6 103.4 L126.8 100.9 L126.9 98.6 L127.0 96.1 L127.1 93.5 L127.2 90.9 L127.3 88.2 L127.4 85.6 L127.5 83.0 L127.6 80.5 L127.7 78.0 L127.9 75.5 L128.0 73.0 L128.1 70.6 L128.3 68.2 L128.4 66.0 L128.6 63.4 L128.8 60.7 L129.0 58.0 L129.2 55.5 L129.4 53.1 L129.6 50.8 L129.9 48.0 L130.2 45.3 L130.5 42.8 L130.8 40.1 L131.2 37.7 L131.7 35.2 L132.2 32.6 L132.7 30.2 L133.2 28.2 L134.2 25.1 L135.2 22.9 L137.2 21.0 L139.1 23.0 L139.8 24.7 L140.4 26.7 L141.1 29.1 L141.9 32.0 L142.8 35.3 L143.4 38.1 L143.9 40.0 L144.4 42.1 L144.9 44.3 L145.5 46.6 L146.1 49.0 L146.6 51.4 L147.2 54.0 L147.8 56.6 L148.4 59.2 L148.9 61.8 L149.5 64.5 L150.0 67.1 L150.5 69.5 L151.0 71.9 L151.4 74.4 L151.9 76.9 L152.4 79.5 L152.8 82.2 L153.3 84.8 L153.7 87.5 L154.2 90.1 L154.6 92.6 L155.0 95.1 L155.4 97.6 L155.8 99.9 L156.2 102.0 L156.6 104.1 L157.1 106.7 L157.8 109.8 L158.4 112.6 L158.9 115.1 L159.5 117.4 L160.0 119.5 L160.5 121.4 L161.0 123.1 L161.9 125.8 L163.0 128.5 L164.1 130.4 L165.1 132.2 L166.6 134.8 L168.2 136.7 L170.5 138.1 L173.3 138.9 L175.6 139.1 L176.9 139.1" stroke-width="1.7"/>
<path d="M176.9 139.1 L178.2 139.1 L179.6 139.1 L181.0 139.3 L182.2 139.0 L183.4 139.8 L184.5 139.2 L185.8 139.5 L187.1 139.6 L188.5 139.5 L190.0 139.0 L191.0 138.8 L192.2 139.0 L193.3 138.5 L194.5 139.2 L195.8 138.8 L197.0 139.4 L198.3 138.9 L199.6 139.1 L200.9 139.1 L202.1 139.4 L203.3 139.2 L204.5 139.1 L205.8 139.8 L207.0 139.3 L208.2 139.2 L209.4 139.2 L210.6 139.3 L211.8 139.2 L213.0 139.3 L214.2 139.4 L215.5 139.1 L216.7 139.8 L217.9 139.8 L219.1 139.1 L220.3 140.0 L221.5 140.2 L222.7 140.1 L223.9 139.5 L225.2 140.2 L226.4 139.9 L227.6 139.2 L228.8 139.2 L230.0 140.0 L231.2 139.7 L232.4 139.2 L233.6 139.1 L234.8 139.2 L236.1 139.4 L237.3 140.0 L238.5 139.7 L239.7 139.6 L240.9 140.5 L242.1 140.4 L243.3 139.8 L244.5 140.5 L245.8 140.2 L247.0 140.3 L248.2 140.1 L249.4 140.3 L250.6 140.1 L251.8 140.1 L253.0 139.5 L254.2 140.0 L255.5 140.0 L256.7 140.3 L257.9 140.1 L259.1 140.6 L260.3 140.4 L261.5 140.2 L262.7 140.2 L263.9 140.1 L265.2 140.4 L266.4 139.9 L267.6 140.3 L268.8 139.8 L270.0 140.1 L271.2 140.0 L272.4 140.0 L273.6 140.4 L274.8 139.5 L276.1 140.4 L277.3 140.1 L278.5 140.2 L279.7 140.3 L280.9 140.5 L282.1 140.0 L283.3 140.0 L284.5 140.4 L285.8 139.4 L287.0 139.8 L288.2 139.7 L289.4 138.9 L290.6 139.4 L291.8 139.4 L293.0 139.7 L294.2 139.1 L295.5 139.8 L296.7 139.4 L297.9 139.4 L299.1 139.8 L300.3 139.0 L301.5 139.6 L302.7 139.5 L303.9 139.1 L305.2 139.5 L306.4 138.8 L307.6 138.8 L308.8 138.7 L310.0 138.9 L311.2 138.3 L312.4 138.5 L313.6 138.5 L314.8 138.6 L316.1 139.0 L317.3 138.5 L318.5 139.0 L319.7 138.6 L320.9 138.7 L322.1 138.4 L323.3 138.6 L324.5 138.9 L325.8 138.4 L327.0 138.4 L328.2 137.8 L329.4 137.7 L330.6 137.7 L331.8 137.9 L333.0 138.0 L334.2 138.2 L335.5 137.5 L336.7 138.2 L337.9 138.4 L339.1 138.1 L340.3 137.5 L341.5 137.7 L342.7 137.3 L343.9 137.4 L345.2 138.0 L346.4 137.5 L347.6 137.4 L348.8 137.5 L350.0 137.6 L351.2 137.3 L352.4 137.3 L353.6 137.4 L354.8 137.5 L356.1 137.5 L357.3 137.7 L358.5 137.3 L359.7 137.8 L360.9 137.6 L362.1 137.8 L363.3 137.1 L364.5 137.1 L365.8 136.8 L367.0 137.5 L368.2 137.5 L369.4 137.3 L370.6 137.0 L371.8 137.5 L373.0 137.5 L374.2 137.4 L375.5 137.2 L376.7 137.3 L377.9 137.5 L379.1 137.4 L380.3 137.5 L381.4 137.7 L382.6 137.9 L383.8 137.0 L385.0 137.4 L386.2 136.8 L387.5 136.8 L388.7 137.4 L390.0 137.1 L391.2 137.5 L392.4 137.0 L393.6 136.6 L394.9 137.0 L396.1 137.2 L397.4 137.5 L398.7 137.4 L399.9 136.8 L401.2 136.6 L402.5 136.1 L403.7 136.4 L405.0 135.8 L406.2 135.5 L407.5 135.2 L408.8 135.1 L410.0 135.7 L411.2 135.1 L412.5 136.0 L413.8 135.1 L415.0 135.9 L416.2 135.1 L417.5 135.0 L418.8 135.6 L420.0 135.0 L421.2 135.3 L422.5 134.5 L423.8 134.2 L425.0 134.7 L426.2 134.4 L427.5 134.4 L428.8 134.2 L430.0 133.5 L431.2 134.0 L432.5 134.0 L433.8 133.7 L435.0 134.2 L436.2 133.5 L437.4 134.1 L438.6 133.8 L439.8 132.9 L441.0 132.8 L442.2 133.2 L443.4 133.2 L444.6 132.3 L445.9 132.3 L447.2 132.6 L448.6 131.8 L450.0 132.4 L451.1 131.9 L452.3 131.4 L453.4 131.6 L454.6 131.6 L455.9 131.3 L457.1 131.3 L458.4 130.5 L459.7 130.8 L460.9 130.1 L462.2 130.0 L463.5 129.6 L464.8 129.0 L466.1 128.7 L467.4 128.9 L468.7 128.8 L470.0 128.5 L471.2 128.2 L472.5 127.9 L473.7 127.5 L475.0 128.3 L476.4 127.9 L477.7 127.9 L479.0 127.1 L480.3 127.2 L481.6 127.3 L482.9 126.9 L484.1 126.4 L485.3 125.9 L486.5 125.9 L487.6 126.3 L488.7 125.7 L489.7 126.0 L490.6 125.9 L492.6 126.3 L494.2 126.3 L495.5 125.9 L496.7 125.7 L497.8 126.1 L498.9 126.4 L500.0 126.7 L501.3 127.0 L502.6 127.2 L503.8 126.6 L505.0 127.7 L506.0 128.0 L507.0 128.4" stroke-width="2"/>
<path d="M181.0 139.1 L182.2 139.9 L183.4 139.2 L184.5 139.0 L185.8 139.2 L187.1 138.9 L188.5 139.4 L190.0 139.3 L191.0 139.1 L192.2 138.6 L193.3 139.3 L194.5 138.9 L195.8 139.3 L197.0 139.4 L198.3 139.4 L199.6 139.2 L200.9 139.1 L202.1 138.5 L203.3 139.2 L204.5 139.3 L205.8 139.1 L207.0 140.5 L208.2 138.5 L209.4 139.6 L210.6 139.6 L211.8 139.5 L213.0 138.4 L214.2 139.7 L215.5 139.5 L216.7 140.1 L217.9 140.5 L219.1 139.7 L220.3 139.4 L221.5 138.9 L222.7 138.6 L223.9 139.7 L225.2 139.6 L226.4 139.9 L227.6 139.9 L228.8 138.8 L230.0 139.6 L231.2 139.8 L232.4 139.8 L233.6 139.6 L234.8 140.8 L236.1 139.6 L237.3 139.2 L238.5 140.8 L239.7 140.0 L240.9 140.5 L242.1 140.0 L243.3 139.6 L244.5 140.5 L245.8 140.0 L247.0 140.2 L248.2 139.7 L249.4 139.4 L250.6 140.0 L251.8 139.4 L253.0 140.5 L254.2 140.6 L255.5 139.0 L256.7 139.9 L257.9 140.3 L259.1 139.9 L260.3 139.2 L261.5 140.4 L262.7 140.2 L263.9 141.0 L265.2 140.4 L266.4 139.7 L267.6 140.8 L268.8 140.1 L270.0 140.2 L271.2 139.5 L272.4 141.0 L273.6 139.5 L274.8 140.1 L276.1 139.9 L277.3 139.8 L278.5 140.1 L279.7 139.9 L280.9 139.4 L282.1 139.6 L283.3 140.1 L284.5 139.5 L285.8 140.6 L287.0 140.2 L288.2 140.7 L289.4 140.3 L290.6 138.7 L291.8 140.3 L293.0 139.3 L294.2 140.4 L295.5 139.5 L296.7 138.6 L297.9 139.4 L299.1 138.3 L300.3 139.5 L301.5 139.0 L302.7 139.4 L303.9 139.3 L305.2 138.8 L306.4 139.5 L307.6 139.4 L308.8 139.6 L310.0 139.6 L311.2 138.8 L312.4 139.7 L313.6 138.9 L314.8 138.0 L316.1 138.6 L317.3 138.3 L318.5 138.2 L319.7 138.5 L320.9 138.2 L322.1 138.6 L323.3 138.3 L324.5 138.3 L325.8 138.0 L327.0 138.5 L328.2 138.2 L329.4 138.2 L330.6 139.2 L331.8 137.3 L333.0 137.4 L334.2 137.7 L335.5 138.4 L336.7 136.8 L337.9 137.9 L339.1 137.9 L340.3 138.6 L341.5 137.4 L342.7 137.6 L343.9 137.5 L345.2 137.3 L346.4 137.7 L347.6 137.2 L348.8 137.6 L350.0 138.1 L351.2 137.3 L352.4 138.1 L353.6 137.3 L354.8 137.5 L356.1 136.8 L357.3 137.2 L358.5 137.5 L359.7 137.6 L360.9 137.1 L362.1 137.6 L363.3 137.2 L364.5 137.7 L365.8 137.4 L367.0 137.2 L368.2 137.1 L369.4 138.4 L370.6 137.6 L371.8 137.5 L373.0 137.6 L374.2 137.7 L375.5 137.7 L376.7 137.4 L377.9 137.4 L379.1 137.4 L380.3 138.4 L381.4 136.9 L382.6 137.2 L383.8 137.7 L385.0 137.3 L386.2 137.4 L387.5 136.5 L388.7 136.9 L390.0 136.8 L391.2 136.3 L392.4 137.4 L393.6 137.1 L394.9 136.8 L396.1 136.9 L397.4 136.9 L398.7 136.6 L399.9 135.9 L401.2 136.4 L402.5 136.1 L403.7 137.1 L405.0 136.3 L406.2 135.9 L407.5 135.8 L408.8 135.7 L410.0 136.6 L411.2 134.7 L412.5 135.5 L413.8 135.3 L415.0 136.5 L416.2 135.1 L417.5 134.9 L418.8 135.2 L420.0 135.2 L421.2 135.0 L422.5 134.9 L423.8 134.8 L425.0 134.8 L426.2 135.3 L427.5 134.9 L428.8 134.2 L430.0 134.1 L431.2 134.6 L432.5 133.9 L433.8 133.6 L435.0 133.7 L436.2 133.2 L437.4 133.3 L438.6 134.0 L439.8 133.2 L441.0 132.4 L442.2 132.2 L443.4 133.0 L444.6 133.8 L445.9 133.5 L447.2 132.8 L448.6 132.2 L450.0 131.9 L451.1 132.2 L452.3 132.1 L453.4 131.6 L454.6 131.4 L455.9 131.3 L457.1 130.6 L458.4 130.5 L459.7 130.5 L460.9 129.9 L462.2 129.6 L463.5 129.6 L464.8 129.6 L466.1 129.0 L467.4 129.1 L468.7 128.7 L470.0 128.2 L471.2 129.3 L472.5 128.0 L473.7 128.7 L475.0 127.8 L476.4 127.7 L477.7 126.5 L479.0 127.2 L480.3 126.8 L481.6 127.1 L482.9 126.6 L484.1 126.6 L485.3 126.2 L486.5 126.1 L487.6 125.8 L488.7 126.8 L489.7 126.1 L490.6 125.9 L492.6 125.7 L494.2 125.8 L495.5 125.9 L496.7 125.1 L497.8 126.7" stroke-width="0.8" stroke-opacity="0.85"/>
<path d="M507.0 128.4 L509.3 129.9 L511.0 132.0 L512.1 134.0 L513.0 136.5 L513.6 139.0 L514.0 141.3 L514.4 143.9 L514.8 146.6 L515.2 149.2 L515.7 151.5 L516.2 153.9 L516.6 156.6 L517.0 159.4 L517.3 162.1 L517.4 164.5 L517.5 167.0 L517.6 169.7 L517.7 172.4 L517.7 175.0 L517.8 177.6 L517.8 180.0 L517.9 182.9 L517.9 185.9 L517.9 188.8 L518.0 191.4 L518.0 193.6 L518.0 195.2 L518.0 195.2" stroke-width="1.05"/>
<path d="M121.8 322.4 L121.8 321.1 L121.8 319.5 L121.8 317.8 L121.9 316.0 L121.9 313.9 L122.0 311.7 L122.0 309.4 L122.1 307.0 L122.1 304.4 L122.2 301.8 L122.2 299.1 L122.3 296.3 L122.4 293.5 L122.4 290.6 L122.5 287.7 L122.5 284.8 L122.6 281.9 L122.6 279.0 L122.7 276.2 L122.7 274.0 L122.7 271.8 L122.8 269.5 L122.8 267.1 L122.8 264.7 L122.9 262.3 L122.9 259.8 L123.0 257.3 L123.0 254.7 L123.0 252.1 L123.1 249.6 L123.1 247.0 L123.1 244.4 L123.2 241.8 L123.2 239.2 L123.2 236.6 L123.3 234.1 L123.3 231.6 L123.3 229.1 L123.4 226.7 L123.4 224.4 L123.4 222.1 L123.5 219.8 L123.5 217.6 L123.5 215.5 L123.6 213.0 L123.6 210.1 L123.7 207.3 L123.7 204.6 L123.7 202.0 L123.8 199.5 L123.8 197.0 L123.9 194.6 L123.9 192.2 L123.9 190.0 L124.0 187.7 L124.0 185.5 L124.0 183.3 L124.1 181.1 L124.1 178.9 L124.2 176.7 L124.2 174.5 L124.2 172.0 L124.3 169.3 L124.4 166.6 L124.4 164.0 L124.5 161.4 L124.6 158.8 L124.6 156.2 L124.7 153.7 L124.8 151.2 L124.8 148.8 L124.9 146.4 L124.9 144.1 L125.0 141.9 L125.1 139.7 L125.1 137.2 L125.2 134.3 L125.3 131.6 L125.3 128.9 L125.4 126.4 L125.5 124.0 L125.5 121.7 L125.6 119.4 L125.7 117.3 L125.7 115.2 L125.8 112.7 L126.0 110.0 L126.1 107.6 L126.2 105.4 L126.3 103.2 L126.4 100.8 L126.6 98.3 L126.7 95.9 L126.8 93.4 L126.9 90.8 L127.0 88.2 L127.1 85.6 L127.2 83.0 L127.3 80.5 L127.4 78.0 L127.6 75.5 L127.7 73.0 L127.8 70.5 L127.9 68.1 L128.1 65.7 L128.2 63.4 L128.4 60.9 L128.6 58.1 L128.8 55.5 L129.0 53.0 L129.2 50.6 L129.4 48.3 L129.7 45.4 L130.0 42.8 L130.3 40.3 L130.7 37.6 L131.0 35.2 L131.5 32.6 L132.0 30.1 L132.5 27.7 L133.0 25.7 L134.0 22.5 L135.0 20.3 L137.0 18.8 L139.1 20.5 L140.2 22.3 L141.3 24.6 L142.6 27.2 L143.7 29.5 L144.7 31.4 L145.7 33.4 L146.7 35.5 L147.8 38.0 L148.9 40.7 L149.7 43.2 L150.3 45.2 L150.9 47.4 L151.5 49.7 L152.2 52.2 L152.8 54.7 L153.4 57.2 L154.0 59.7 L154.6 62.2 L155.1 64.6 L155.6 66.8 L156.1 69.4 L156.6 72.0 L157.1 74.6 L157.6 77.1 L158.0 79.6 L158.4 82.1 L158.8 84.4 L159.2 86.7 L159.6 88.9 L160.1 91.7 L160.5 94.4 L161.0 96.8 L161.4 99.2 L161.8 101.6 L162.3 103.8 L162.8 106.4 L163.4 109.1 L164.0 111.8 L164.6 114.4 L165.2 116.8 L165.7 118.9 L166.6 122.0 L167.3 124.3 L168.2 126.5 L169.4 129.2 L170.7 131.6 L172.4 133.6 L174.5 135.1 L176.8 135.9 L176.8 135.9" stroke-width="1.7"/>
<path d="M176.8 135.9 L178.0 135.9 L179.2 136.1 L180.5 136.5 L181.8 136.8 L183.0 136.5 L184.3 136.7 L185.5 135.9 L186.8 135.8 L188.2 136.5 L190.0 136.1 L191.0 136.6 L192.0 136.3 L193.2 136.1 L194.4 136.3 L195.6 136.2 L196.9 137.0 L198.2 136.6 L199.5 136.3 L200.8 136.3 L202.1 136.1 L203.3 135.7 L204.5 136.4 L205.8 136.0 L207.0 136.3 L208.2 135.8 L209.4 136.0 L210.6 135.6 L211.8 135.5 L213.0 136.4 L214.2 136.4 L215.5 135.9 L216.7 136.5 L217.9 136.4 L219.1 135.8 L220.3 136.0 L221.5 136.3 L222.7 135.7 L223.9 136.0 L225.2 135.2 L226.4 135.3 L227.6 135.6 L228.8 135.1 L230.0 135.2 L231.2 135.9 L232.4 135.5 L233.6 135.9 L234.8 135.4 L236.1 135.3 L237.3 135.5 L238.5 135.2 L239.7 135.9 L240.9 135.1 L242.1 135.3 L243.3 134.7 L244.5 135.0 L245.8 134.8 L247.0 134.8 L248.2 134.5 L249.4 134.6 L250.6 135.3 L251.8 134.9 L253.0 134.9 L254.2 134.9 L255.5 135.0 L256.7 134.9 L257.9 134.6 L259.1 135.2 L260.3 134.7 L261.5 134.4 L262.7 134.8 L263.9 134.1 L265.2 134.2 L266.4 134.8 L267.6 134.1 L268.8 134.4 L270.0 134.9 L271.2 134.9 L272.4 134.4 L273.6 134.6 L274.8 135.0 L276.1 134.7 L277.3 135.2 L278.5 134.4 L279.7 135.0 L280.9 134.5 L282.1 134.1 L283.3 134.3 L284.5 133.9 L285.8 134.5 L287.0 134.0 L288.2 134.7 L289.4 134.5 L290.6 134.4 L291.8 134.3 L293.0 134.8 L294.2 134.4 L295.5 135.1 L296.7 134.3 L297.9 134.6 L299.1 134.5 L300.3 134.2 L301.5 134.6 L302.7 134.1 L303.9 134.3 L305.2 134.2 L306.4 134.0 L307.6 134.1 L308.8 133.9 L310.0 134.1 L311.2 134.8 L312.4 134.4 L313.6 134.7 L314.8 134.2 L316.1 134.6 L317.3 134.3 L318.5 134.4 L319.7 134.1 L320.9 133.7 L322.1 133.9 L323.3 133.8 L324.5 133.6 L325.8 134.2 L327.0 133.9 L328.2 134.1 L329.4 134.7 L330.6 134.6 L331.8 134.8 L333.0 134.8 L334.2 134.1 L335.5 134.2 L336.7 133.9 L337.9 134.4 L339.1 134.3 L340.3 133.9 L341.5 133.9 L342.7 134.1 L343.9 134.1 L345.2 133.7 L346.4 134.3 L347.6 133.9 L348.8 134.3 L350.0 133.9 L351.2 133.9 L352.4 134.7 L353.6 134.5 L354.8 134.3 L356.1 133.6 L357.3 133.4 L358.5 133.4 L359.7 133.2 L360.9 133.2 L362.1 133.2 L363.3 132.8 L364.5 133.0 L365.8 133.3 L367.0 132.9 L368.2 133.6 L369.4 133.4 L370.6 133.5 L371.8 133.1 L373.0 133.2 L374.2 133.4 L375.5 132.9 L376.7 132.4 L377.9 133.1 L379.1 132.9 L380.3 132.3 L381.6 132.0 L382.8 132.7 L384.0 132.4 L385.2 131.9 L386.4 132.1 L387.6 132.0 L388.8 132.7 L390.0 132.1 L391.3 132.7 L392.6 132.4 L393.8 131.6 L395.1 132.0 L396.3 131.4 L397.5 131.5 L398.8 131.3 L400.0 130.5 L401.3 130.1 L402.5 130.8 L403.7 130.1 L405.0 130.6 L406.2 130.3 L407.4 130.3 L408.7 130.3 L409.9 130.0 L411.1 129.7 L412.4 129.2 L413.7 129.6 L415.0 129.1 L416.3 128.9 L417.6 129.0 L419.0 127.8 L420.4 128.1 L421.9 127.1 L423.3 127.6 L424.6 127.5 L425.9 126.9 L427.1 127.1 L428.1 127.5 L429.0 126.8" stroke-width="2"/>
<path d="M180.5 136.3 L181.8 135.3 L183.0 136.2 L184.3 136.0 L185.5 137.0 L186.8 136.4 L188.2 136.6 L190.0 137.5 L191.0 136.0 L192.0 136.3 L193.2 136.3 L194.4 136.4 L195.6 136.2 L196.9 136.4 L198.2 136.5 L199.5 136.0 L200.8 135.9 L202.1 135.2 L203.3 135.5 L204.5 136.1 L205.8 135.7 L207.0 136.0 L208.2 135.1 L209.4 137.2 L210.6 135.8 L211.8 136.3 L213.0 135.7 L214.2 135.9 L215.5 136.0 L216.7 136.8 L217.9 135.9 L219.1 135.9 L220.3 135.2 L221.5 134.7 L222.7 135.9 L223.9 135.0 L225.2 135.9 L226.4 135.4 L227.6 135.8 L228.8 135.5 L230.0 136.3 L231.2 135.2 L232.4 135.4 L233.6 135.3 L234.8 135.6 L236.1 135.6 L237.3 135.6 L238.5 135.3 L239.7 135.1 L240.9 135.5 L242.1 135.7 L243.3 135.1 L244.5 135.0 L245.8 135.0 L247.0 135.7 L248.2 135.9 L249.4 135.3 L250.6 134.6 L251.8 135.0 L253.0 134.6 L254.2 135.4 L255.5 135.2 L256.7 134.4 L257.9 135.0 L259.1 134.2 L260.3 134.4 L261.5 135.1 L262.7 135.0 L263.9 135.0 L265.2 134.9 L266.4 135.1 L267.6 134.5 L268.8 134.9 L270.0 134.7 L271.2 134.2 L272.4 134.3 L273.6 135.0 L274.8 133.6 L276.1 134.5 L277.3 134.5 L278.5 134.6 L279.7 133.6 L280.9 135.4 L282.1 134.3 L283.3 134.4 L284.5 134.6 L285.8 134.5 L287.0 134.3 L288.2 134.3 L289.4 134.5 L290.6 134.3 L291.8 134.3 L293.0 134.5 L294.2 134.6 L295.5 135.6 L296.7 134.2 L297.9 134.4 L299.1 135.5 L300.3 134.6 L301.5 135.0 L302.7 133.8 L303.9 133.3 L305.2 134.2 L306.4 134.8 L307.6 135.3 L308.8 134.6 L310.0 134.6 L311.2 134.1 L312.4 134.2 L313.6 134.4 L314.8 134.1 L316.1 134.9 L317.3 134.4 L318.5 134.5 L319.7 134.4 L320.9 134.0 L322.1 134.4 L323.3 133.6 L324.5 135.0 L325.8 134.0 L327.0 133.3 L328.2 134.0 L329.4 134.1 L330.6 134.1 L331.8 135.1 L333.0 134.3 L334.2 134.5 L335.5 133.8 L336.7 134.2 L337.9 134.4 L339.1 133.4 L340.3 134.3 L341.5 134.1 L342.7 135.0 L343.9 135.0 L345.2 133.9 L346.4 133.5 L347.6 134.2 L348.8 133.4 L350.0 134.0 L351.2 134.0 L352.4 132.9 L353.6 133.9 L354.8 133.8 L356.1 133.6 L357.3 134.2 L358.5 133.2 L359.7 133.5 L360.9 133.6 L362.1 133.8 L363.3 133.6 L364.5 133.6 L365.8 133.4 L367.0 133.2 L368.2 133.9 L369.4 133.4 L370.6 133.0 L371.8 133.2 L373.0 133.1 L374.2 133.1 L375.5 131.9 L376.7 132.4 L377.9 132.8 L379.1 132.1 L380.3 132.3 L381.6 131.5 L382.8 132.6 L384.0 132.7 L385.2 131.7 L386.4 132.0 L387.6 132.9 L388.8 132.6 L390.0 133.2 L391.3 131.8 L392.6 132.1 L393.8 131.7 L395.1 131.6 L396.3 131.2 L397.5 131.5 L398.8 130.6 L400.0 130.2 L401.3 131.2 L402.5 130.4 L403.7 130.7 L405.0 130.4 L406.2 130.7 L407.4 130.0 L408.7 130.5 L409.9 129.6 L411.1 128.8 L412.4 129.6 L413.7 129.4 L415.0 128.6 L416.3 128.9 L417.6 129.0 L419.0 127.3" stroke-width="0.8" stroke-opacity="0.85"/>
<path d="M429.0 126.8 L431.8 127.2 L433.1 128.9 L434.2 131.4 L434.8 134.0 L435.2 136.4 L435.6 139.0 L436.0 142.0 L436.3 144.2 L436.6 146.4 L436.9 148.9 L437.2 151.7 L437.5 155.0 L437.6 157.0 L437.8 159.2 L437.9 161.6 L438.1 164.1 L438.2 166.6 L438.4 169.2 L438.5 171.8 L438.6 174.4 L438.7 176.8 L438.9 179.3 L439.0 182.1 L439.1 185.1 L439.2 188.0 L439.3 190.8 L439.4 193.5 L439.5 195.9 L439.5 197.9 L439.6 199.4 L439.6 199.4" stroke-width="1.05"/>
<path d="M121.8 322.4 L121.8 321.1 L121.8 319.5 L121.8 317.8 L121.9 316.0 L121.9 313.9 L122.0 311.7 L122.0 309.4 L122.1 307.0 L122.1 304.4 L122.2 301.8 L122.2 299.1 L122.3 296.3 L122.4 293.5 L122.4 290.6 L122.5 287.7 L122.5 284.8 L122.6 281.9 L122.6 279.0 L122.7 276.2 L122.7 274.0 L122.7 271.8 L122.8 269.5 L122.8 267.1 L122.8 264.7 L122.9 262.3 L122.9 259.8 L123.0 257.3 L123.0 254.7 L123.0 252.1 L123.1 249.6 L123.1 247.0 L123.1 244.4 L123.2 241.8 L123.2 239.2 L123.2 236.6 L123.3 234.1 L123.3 231.6 L123.3 229.1 L123.4 226.7 L123.4 224.4 L123.4 222.1 L123.5 219.8 L123.5 217.6 L123.5 215.5 L123.6 213.0 L123.6 210.1 L123.7 207.3 L123.7 204.6 L123.7 202.0 L123.8 199.5 L123.8 197.0 L123.9 194.6 L123.9 192.2 L123.9 190.0 L124.0 187.7 L124.0 185.5 L124.0 183.3 L124.1 181.1 L124.1 178.9 L124.2 176.7 L124.2 174.5 L124.2 172.0 L124.3 169.3 L124.4 166.6 L124.4 164.0 L124.5 161.4 L124.6 158.8 L124.6 156.2 L124.7 153.7 L124.8 151.2 L124.8 148.8 L124.9 146.4 L124.9 144.1 L125.0 141.9 L125.1 139.7 L125.1 137.2 L125.2 134.3 L125.3 131.6 L125.3 129.0 L125.4 126.5 L125.5 124.1 L125.5 121.7 L125.6 119.5 L125.7 117.3 L125.7 115.3 L125.8 112.8 L125.9 110.1 L126.0 107.7 L126.1 105.5 L126.2 103.3 L126.3 101.0 L126.4 98.4 L126.5 96.1 L126.6 93.6 L126.7 91.1 L126.8 88.5 L126.9 85.9 L127.0 83.3 L127.2 80.8 L127.3 78.3 L127.4 75.8 L127.5 73.3 L127.6 70.8 L127.8 68.3 L127.9 65.9 L128.0 63.6 L128.2 61.4 L128.4 58.5 L128.6 55.8 L128.8 53.3 L129.0 50.8 L129.2 48.5 L129.5 45.8 L129.7 43.1 L130.0 40.6 L130.3 38.0 L130.7 35.4 L131.2 32.9 L131.6 30.4 L132.1 27.9 L132.6 25.7 L133.4 23.0 L134.4 20.3 L135.5 18.7 L138.5 18.9 L140.2 20.0 L142.2 21.9 L143.7 24.3 L144.7 26.1 L145.7 28.2 L146.7 30.5 L147.8 33.0 L148.9 35.8 L149.7 38.2 L150.5 40.3 L151.2 42.5 L151.9 44.9 L152.6 47.3 L153.3 49.8 L154.0 52.3 L154.7 54.7 L155.3 57.1 L155.9 59.5 L156.5 62.0 L157.0 64.3 L157.4 66.7 L157.8 69.0 L158.3 71.5 L158.8 74.0 L159.3 76.7 L159.8 79.2 L160.3 81.6 L160.8 84.1 L161.3 86.7 L161.9 89.3 L162.4 92.0 L163.0 94.7 L163.5 97.3 L164.0 99.7 L164.5 102.0 L164.9 104.1 L165.5 106.9 L166.1 110.0 L166.5 112.6 L166.9 114.7 L167.4 116.7 L168.0 119.3 L168.8 122.0 L169.6 124.2 L170.7 126.6 L171.9 128.8 L173.3 130.6 L175.6 132.3 L177.1 132.8" stroke-width="1.7"/>
<path d="M177.1 132.8 L178.3 132.5 L179.7 133.1 L181.2 132.8 L182.6 133.0 L184.0 133.2 L185.1 133.0 L186.1 133.3 L187.1 132.9 L188.3 133.9 L190.0 133.7 L190.9 134.1 L192.0 133.2 L193.1 133.7 L194.3 133.7 L195.6 133.2 L196.9 132.8 L198.2 132.8 L199.5 132.6 L200.8 133.2 L202.1 132.5 L203.3 133.2 L204.5 132.8 L205.8 133.0 L207.0 133.1 L208.2 133.1 L209.4 133.3 L210.6 133.3 L211.8 133.0 L213.0 133.3 L214.2 132.7 L215.5 133.1 L216.7 133.0 L217.9 132.9 L219.1 132.3 L220.3 132.7 L221.5 132.9 L222.7 132.4 L223.9 132.2 L225.2 132.5 L226.4 133.0 L227.6 132.3 L228.8 132.2 L230.0 132.7 L231.2 132.8 L232.4 132.9 L233.6 132.4 L234.8 132.9 L236.1 132.0 L237.3 132.4 L238.5 131.6 L239.7 131.5 L240.9 131.6 L242.1 131.5 L243.3 132.0 L244.5 132.1 L245.8 131.8 L247.0 132.6 L248.2 132.1 L249.4 131.9 L250.6 131.9 L251.8 132.4 L253.0 132.5 L254.2 131.6 L255.5 131.4 L256.7 132.0 L257.9 131.3 L259.1 132.0 L260.3 131.5 L261.5 131.6 L262.7 131.3 L263.9 131.8 L265.2 131.6 L266.4 131.5 L267.6 132.1 L268.8 131.4 L270.0 132.0 L271.2 131.3 L272.4 131.8 L273.6 131.5 L274.8 131.8 L276.1 130.9 L277.3 131.4 L278.5 131.2 L279.7 131.7 L280.9 131.7 L282.1 131.5 L283.3 131.2 L284.5 131.3 L285.8 131.4 L287.0 131.6 L288.2 131.5 L289.4 131.5 L290.6 132.0 L291.8 131.8 L293.0 131.4 L294.2 132.0 L295.5 131.2 L296.7 131.4 L297.9 131.0 L299.1 131.6 L300.3 131.7 L301.5 131.1 L302.7 131.7 L303.9 131.9 L305.2 131.4 L306.4 131.6 L307.6 131.8 L308.8 132.2 L310.0 131.4 L311.2 131.9 L312.4 131.7 L313.6 131.5 L314.8 131.5 L316.1 131.8 L317.3 131.0 L318.5 131.7 L319.7 131.2 L320.9 131.7 L322.1 131.8 L323.3 131.2 L324.5 132.0 L325.8 132.2 L327.0 131.6 L328.2 131.3 L329.4 131.4 L330.6 132.2 L331.8 131.2 L333.0 132.0 L334.2 131.1 L335.5 131.6 L336.7 131.0 L337.9 131.0 L339.1 131.5 L340.3 131.0 L341.5 131.3 L342.7 132.0 L343.9 131.9 L345.2 132.2 L346.4 132.3 L347.6 131.4 L348.8 131.6 L350.0 132.1 L351.2 131.9 L352.4 131.1 L353.6 131.5 L354.8 131.1 L356.1 131.2 L357.3 130.9 L358.5 130.8 L359.7 131.8 L360.9 131.1 L362.1 131.8 L363.3 131.1 L364.5 131.5 L365.8 131.2 L367.0 131.5 L368.2 131.2 L369.4 131.7 L370.6 131.1 L371.8 131.5 L373.0 131.2 L374.2 130.7 L375.5 130.9 L376.7 130.9 L377.9 131.4 L379.1 130.8 L380.3 130.8 L381.6 131.6 L382.8 131.6 L384.0 131.6 L385.2 131.2 L386.4 131.1 L387.6 131.1 L388.8 130.8 L390.0 130.7 L391.3 130.9 L392.6 130.6 L393.8 130.5 L395.1 130.1 L396.3 129.6 L397.5 130.1 L398.8 130.0 L400.0 129.8 L401.3 129.7 L402.5 129.8 L403.7 130.0 L404.9 129.8 L406.1 129.5 L407.3 129.1 L408.5 128.8 L409.7 128.7 L410.9 129.0 L412.2 128.1 L413.6 127.9 L415.0 127.7 L416.1 127.3 L417.3 128.0 L418.6 126.9 L419.9 127.4 L421.2 127.6 L422.6 126.9 L424.0 127.1 L425.3 126.7 L426.6 126.4 L427.8 126.2 L429.0 125.9 L430.0 126.4 L431.0 126.2 L431.8 125.9" stroke-width="2"/>
<path d="M181.2 132.9 L182.6 133.1 L184.0 133.3 L185.1 134.4 L186.1 134.0 L187.1 133.4 L188.3 133.7 L190.0 133.7 L190.9 133.3 L192.0 133.3 L193.1 133.4 L194.3 133.2 L195.6 133.3 L196.9 133.5 L198.2 134.2 L199.5 133.3 L200.8 133.1 L202.1 132.3 L203.3 133.1 L204.5 133.1 L205.8 132.9 L207.0 133.7 L208.2 133.1 L209.4 133.2 L210.6 132.6 L211.8 133.6 L213.0 132.6 L214.2 132.3 L215.5 132.5 L216.7 132.8 L217.9 132.5 L219.1 133.9 L220.3 132.6 L221.5 132.8 L222.7 132.4 L223.9 132.5 L225.2 132.4 L226.4 132.2 L227.6 131.4 L228.8 132.6 L230.0 131.7 L231.2 132.3 L232.4 131.8 L233.6 132.1 L234.8 132.6 L236.1 132.1 L237.3 132.3 L238.5 131.2 L239.7 131.9 L240.9 132.1 L242.1 132.5 L243.3 132.0 L244.5 132.3 L245.8 131.9 L247.0 132.2 L248.2 132.4 L249.4 131.0 L250.6 131.9 L251.8 131.9 L253.0 132.1 L254.2 132.1 L255.5 131.8 L256.7 131.8 L257.9 132.0 L259.1 131.7 L260.3 131.9 L261.5 131.8 L262.7 130.6 L263.9 131.7 L265.2 131.8 L266.4 130.9 L267.6 132.3 L268.8 130.6 L270.0 131.5 L271.2 131.9 L272.4 131.5 L273.6 131.9 L274.8 131.7 L276.1 131.7 L277.3 131.3 L278.5 131.5 L279.7 132.6 L280.9 131.0 L282.1 131.0 L283.3 131.6 L284.5 131.5 L285.8 131.1 L287.0 131.7 L288.2 131.4 L289.4 130.5 L290.6 131.5 L291.8 131.5 L293.0 131.4 L294.2 131.4 L295.5 131.6 L296.7 131.1 L297.9 131.5 L299.1 131.4 L300.3 132.2 L301.5 132.0 L302.7 131.6 L303.9 131.8 L305.2 132.4 L306.4 131.4 L307.6 131.3 L308.8 131.3 L310.0 131.4 L311.2 131.6 L312.4 131.6 L313.6 131.7 L314.8 130.9 L316.1 131.3 L317.3 131.4 L318.5 130.6 L319.7 131.8 L320.9 131.9 L322.1 132.5 L323.3 131.4 L324.5 132.0 L325.8 132.3 L327.0 131.0 L328.2 131.5 L329.4 131.4 L330.6 131.5 L331.8 131.4 L333.0 131.9 L334.2 130.5 L335.5 131.9 L336.7 131.7 L337.9 131.5 L339.1 131.5 L340.3 131.4 L341.5 131.4 L342.7 131.9 L343.9 131.6 L345.2 131.3 L346.4 131.6 L347.6 131.4 L348.8 131.8 L350.0 131.6 L351.2 130.8 L352.4 132.5 L353.6 131.4 L354.8 131.3 L356.1 131.8 L357.3 132.5 L358.5 131.2 L359.7 131.3 L360.9 132.0 L362.1 132.1 L363.3 130.4 L364.5 131.1 L365.8 131.5 L367.0 131.3 L368.2 131.4 L369.4 131.6 L370.6 131.5 L371.8 131.0 L373.0 131.1 L374.2 132.3 L375.5 132.0 L376.7 131.2 L377.9 130.3 L379.1 131.0 L380.3 131.2 L381.6 131.1 L382.8 131.3 L384.0 131.1 L385.2 130.9 L386.4 130.3 L387.6 132.0 L388.8 131.3 L390.0 132.0 L391.3 131.1 L392.6 130.9 L393.8 131.2 L395.1 130.0 L396.3 130.1 L397.5 130.0 L398.8 129.7 L400.0 129.7 L401.3 129.8 L402.5 129.2 L403.7 129.6 L404.9 128.9 L406.1 129.2 L407.3 128.8 L408.5 128.8 L409.7 128.3 L410.9 128.4 L412.2 127.4 L413.6 128.7 L415.0 127.8 L416.1 127.0 L417.3 127.1 L418.6 128.6 L419.9 127.5 L421.2 127.2 L422.6 127.2" stroke-width="0.8" stroke-opacity="0.85"/>
<path d="M431.8 125.9 L434.9 126.3 L436.4 127.9 L437.8 131.0 L438.3 133.0 L438.7 135.5 L439.1 138.4 L439.4 141.0 L439.7 143.2 L439.9 145.6 L440.2 148.1 L440.4 150.8 L440.6 153.6 L440.8 156.1 L440.9 158.4 L441.0 160.8 L441.1 163.3 L441.2 165.8 L441.4 168.4 L441.5 171.0 L441.6 173.7 L441.6 176.2 L441.7 178.9 L441.8 181.7 L441.9 184.6 L442.0 187.5 L442.1 190.3 L442.2 192.8 L442.2 195.0 L442.3 196.8 L442.3 197.5" stroke-width="1.05"/>
<path d="M121.8 322.4 L121.8 321.1 L121.8 319.5 L121.8 317.8 L121.9 316.0 L121.9 313.9 L122.0 311.7 L122.0 309.4 L122.1 307.0 L122.1 304.4 L122.2 301.8 L122.2 299.1 L122.3 296.3 L122.4 293.5 L122.4 290.6 L122.5 287.7 L122.5 284.8 L122.6 281.9 L122.6 279.0 L122.7 276.2 L122.7 274.0 L122.7 271.8 L122.8 269.5 L122.8 267.1 L122.8 264.7 L122.9 262.3 L122.9 259.8 L123.0 257.3 L123.0 254.7 L123.0 252.1 L123.1 249.6 L123.1 247.0 L123.1 244.4 L123.2 241.8 L123.2 239.2 L123.2 236.6 L123.3 234.1 L123.3 231.6 L123.3 229.1 L123.4 226.7 L123.4 224.4 L123.4 222.1 L123.5 219.8 L123.5 217.6 L123.5 215.5 L123.6 213.0 L123.6 210.1 L123.7 207.3 L123.7 204.6 L123.7 202.0 L123.8 199.5 L123.8 197.0 L123.9 194.6 L123.9 192.2 L123.9 190.0 L124.0 187.7 L124.0 185.5 L124.0 183.3 L124.1 181.1 L124.1 178.9 L124.2 176.7 L124.2 174.5 L124.2 172.0 L124.3 169.3 L124.4 166.6 L124.4 164.0 L124.5 161.4 L124.6 158.8 L124.6 156.2 L124.7 153.7 L124.8 151.2 L124.8 148.8 L124.9 146.4 L124.9 144.1 L125.0 141.9 L125.1 139.7 L125.1 137.2 L125.2 134.3 L125.3 131.5 L125.3 128.8 L125.4 126.2 L125.5 123.8 L125.5 121.4 L125.6 119.2 L125.7 117.1 L125.7 115.2 L125.9 112.4 L126.1 109.8 L126.3 107.7 L126.5 105.6 L126.8 102.5 L126.9 100.4 L127.1 98.1 L127.3 95.6 L127.5 93.0 L127.6 90.3 L127.8 87.6 L128.0 84.9 L128.2 82.3 L128.4 79.8 L128.7 77.2 L128.9 74.6 L129.1 72.0 L129.3 69.5 L129.6 67.0 L129.8 64.7 L130.1 62.4 L130.4 59.9 L130.8 56.9 L131.3 54.2 L131.8 51.7 L132.2 49.5 L132.7 47.7 L134.1 44.6 L136.1 43.8 L138.3 43.8 L140.1 44.9 L141.5 47.1 L143.2 49.7 L144.6 51.3 L146.2 53.0 L147.8 54.8 L149.4 57.1 L150.6 59.0 L151.7 61.3 L152.9 63.6 L154.1 66.0 L155.1 68.3 L156.1 70.6 L157.0 72.5 L157.7 74.5 L158.5 76.8 L159.6 80.1 L160.2 82.0 L160.9 84.2 L161.6 86.6 L162.4 89.2 L163.2 91.8 L164.0 94.5 L164.8 97.2 L165.5 99.7 L166.2 102.0 L166.8 104.1 L167.5 106.9 L168.0 110.0 L168.3 112.4 L168.5 114.4 L168.9 116.4 L169.7 119.2 L170.5 121.5 L171.4 123.4 L172.9 125.7 L174.6 127.2 L176.9 128.1 L176.9 128.1" stroke-width="1.7"/>
<path d="M176.9 128.1 L178.4 128.3 L179.6 128.0 L180.9 128.5 L182.3 128.8 L183.7 128.8 L185.0 128.1 L186.2 128.8 L187.1 128.4 L188.2 128.1 L190.0 128.8 L190.9 128.4 L191.9 128.4 L193.0 127.7 L194.2 128.4 L195.5 128.4 L196.8 128.4 L198.1 128.3 L199.5 128.5 L200.8 128.6 L202.1 128.4 L203.3 128.3 L204.5 128.8 L205.8 128.7 L207.0 128.8 L208.2 128.1 L209.4 128.7 L210.6 128.1 L211.8 128.4 L213.0 127.5 L214.2 128.3 L215.5 128.2 L216.7 127.6 L217.9 128.3 L219.1 127.8 L220.3 127.8 L221.5 128.2 L222.7 128.0 L223.9 128.3 L225.2 128.7 L226.4 128.4 L227.6 128.4 L228.8 128.0 L230.0 128.2 L231.2 128.2 L232.4 128.0 L233.6 128.2 L234.8 128.0 L236.1 127.6 L237.3 127.4 L238.5 128.0 L239.7 128.3 L240.9 127.9 L242.1 128.2 L243.3 128.5 L244.5 128.4 L245.8 127.6 L247.0 128.0 L248.2 127.4 L249.4 127.4 L250.6 128.0 L251.8 127.6 L253.0 127.7 L254.2 127.5 L255.5 127.4 L256.7 127.4 L257.9 127.6 L259.1 128.2 L260.3 128.0 L261.5 127.8 L262.7 127.6 L263.9 127.8 L265.2 128.2 L266.4 127.8 L267.6 128.0 L268.8 128.0 L270.0 127.2 L271.2 127.7 L272.4 126.9 L273.6 127.7 L274.8 127.0 L276.1 127.1 L277.3 127.9 L278.5 127.3 L279.7 127.2 L280.9 127.9 L282.1 127.7 L283.3 127.9 L284.5 127.4 L285.8 127.4 L287.0 127.7 L288.2 127.1 L289.4 127.5 L290.6 126.6 L291.8 127.1 L293.0 126.4 L294.2 126.7 L295.5 126.2 L296.7 126.5 L297.9 127.3 L299.1 126.9 L300.3 127.3 L301.5 126.7 L302.7 126.8 L303.9 126.5 L305.2 126.8 L306.4 127.0 L307.6 126.5 L308.8 126.3 L310.0 126.7 L311.2 126.6 L312.4 126.3 L313.6 125.7 L314.8 126.3 L316.1 126.1 L317.3 126.7 L318.5 126.2 L319.7 126.5 L320.9 126.5 L322.1 126.2 L323.3 126.3 L324.5 126.3 L325.8 126.5 L327.0 125.9 L328.2 125.6 L329.4 126.1 L330.6 125.1 L331.8 125.9 L333.0 125.7 L334.2 125.6 L335.5 125.5 L336.7 125.9 L337.9 126.1 L339.1 125.9 L340.3 126.0 L341.5 125.2 L342.7 125.5 L343.9 125.2 L345.2 125.9 L346.4 125.7 L347.6 124.8 L348.8 125.1 L350.0 125.0 L351.2 124.5 L352.4 124.8 L353.6 125.2 L354.8 125.1 L356.1 124.8 L357.3 125.3 L358.5 124.9 L359.7 125.2 L360.9 125.0 L362.1 125.5 L363.3 125.1 L364.5 125.2 L365.8 124.9 L367.0 124.5 L368.2 124.9 L369.4 124.6 L370.6 124.5 L371.8 124.1 L373.0 124.0 L374.2 124.4 L375.5 124.8 L376.7 124.8 L377.9 124.4 L379.1 124.2 L380.3 124.6 L381.4 124.9 L382.6 124.1 L383.8 124.6 L385.0 123.9 L386.2 123.9 L387.5 123.5 L388.7 123.6 L390.0 123.6 L391.2 124.2 L392.4 124.1 L393.6 123.3 L394.9 123.4 L396.1 124.1 L397.4 123.3 L398.7 123.4 L399.9 123.4 L401.2 122.9 L402.5 122.9 L403.7 122.8 L405.0 122.6 L406.2 123.0 L407.4 122.1 L408.6 121.9 L409.8 122.5 L411.0 122.0 L412.1 122.3 L413.3 122.1 L414.6 122.2 L415.8 121.7 L417.2 121.6 L418.6 122.1 L420.0 121.7 L421.1 121.7 L422.3 121.7 L423.5 121.6 L424.8 120.9 L426.2 120.8 L427.5 121.2 L428.9 120.6 L430.3 120.3 L431.7 120.6 L433.1 120.3 L434.4 120.8 L435.6 120.1 L436.8 120.9 L438.0 120.6 L439.0 120.4 L439.9 120.9 L440.7 120.2" stroke-width="2"/>
<path d="M180.9 127.8 L182.3 128.5 L183.7 128.4 L185.0 129.0 L186.2 127.9 L187.1 128.6 L188.2 128.4 L190.0 128.2 L190.9 128.4 L191.9 128.0 L193.0 128.2 L194.2 129.1 L195.5 128.3 L196.8 128.5 L198.1 127.9 L199.5 128.0 L200.8 128.4 L202.1 128.3 L203.3 128.4 L204.5 129.0 L205.8 128.4 L207.0 128.6 L208.2 128.2 L209.4 128.4 L210.6 128.3 L211.8 128.4 L213.0 128.6 L214.2 128.2 L215.5 127.1 L216.7 128.3 L217.9 127.4 L219.1 127.1 L220.3 128.4 L221.5 128.0 L222.7 127.8 L223.9 127.9 L225.2 128.3 L226.4 127.5 L227.6 127.9 L228.8 128.2 L230.0 128.8 L231.2 127.4 L232.4 127.9 L233.6 128.1 L234.8 128.6 L236.1 128.7 L237.3 128.0 L238.5 128.6 L239.7 127.9 L240.9 126.9 L242.1 128.0 L243.3 127.8 L244.5 127.9 L245.8 128.7 L247.0 128.1 L248.2 127.8 L249.4 127.6 L250.6 127.6 L251.8 127.9 L253.0 127.8 L254.2 127.1 L255.5 127.3 L256.7 128.3 L257.9 127.8 L259.1 128.3 L260.3 127.2 L261.5 127.9 L262.7 127.9 L263.9 128.0 L265.2 127.9 L266.4 127.1 L267.6 128.6 L268.8 127.8 L270.0 127.4 L271.2 128.0 L272.4 127.5 L273.6 126.9 L274.8 128.5 L276.1 127.5 L277.3 126.6 L278.5 128.1 L279.7 127.7 L280.9 127.5 L282.1 127.5 L283.3 126.4 L284.5 127.3 L285.8 126.6 L287.0 128.1 L288.2 127.4 L289.4 127.1 L290.6 127.0 L291.8 127.2 L293.0 125.9 L294.2 127.1 L295.5 125.8 L296.7 127.0 L297.9 126.6 L299.1 126.8 L300.3 126.3 L301.5 126.9 L302.7 126.8 L303.9 126.0 L305.2 126.5 L306.4 126.8 L307.6 125.8 L308.8 126.5 L310.0 126.6 L311.2 125.4 L312.4 126.1 L313.6 126.3 L314.8 126.4 L316.1 126.6 L317.3 126.2 L318.5 127.1 L319.7 125.9 L320.9 127.2 L322.1 125.8 L323.3 126.2 L324.5 126.1 L325.8 125.0 L327.0 126.1 L328.2 124.8 L329.4 126.8 L330.6 126.2 L331.8 125.9 L333.0 125.6 L334.2 124.6 L335.5 125.4 L336.7 125.7 L337.9 126.3 L339.1 125.6 L340.3 126.2 L341.5 125.7 L342.7 126.2 L343.9 125.6 L345.2 125.4 L346.4 125.5 L347.6 124.2 L348.8 125.1 L350.0 124.1 L351.2 124.9 L352.4 125.3 L353.6 124.9 L354.8 124.9 L356.1 124.1 L357.3 125.0 L358.5 124.0 L359.7 125.1 L360.9 124.6 L362.1 124.4 L363.3 124.6 L364.5 125.1 L365.8 124.4 L367.0 123.8 L368.2 124.7 L369.4 124.6 L370.6 124.8 L371.8 124.8 L373.0 124.7 L374.2 124.7 L375.5 124.2 L376.7 124.6 L377.9 125.2 L379.1 125.4 L380.3 124.8 L381.4 123.8 L382.6 123.9 L383.8 124.1 L385.0 124.3 L386.2 124.3 L387.5 124.4 L388.7 123.9 L390.0 123.8 L391.2 123.3 L392.4 124.1 L393.6 124.4 L394.9 123.9 L396.1 123.6 L397.4 124.2 L398.7 123.6 L399.9 123.3 L401.2 122.9 L402.5 123.1 L403.7 123.1 L405.0 123.7 L406.2 122.9 L407.4 121.9 L408.6 123.4 L409.8 121.8 L411.0 122.5 L412.1 122.0 L413.3 122.1 L414.6 122.1 L415.8 121.3 L417.2 122.2 L418.6 121.1 L420.0 121.6 L421.1 121.5 L422.3 121.5 L423.5 120.2 L424.8 120.0 L426.2 120.2 L427.5 120.9 L428.9 121.0 L430.3 121.4 L431.7 119.8" stroke-width="0.8" stroke-opacity="0.85"/>
<path d="M440.7 120.2 L444.3 120.5 L446.1 121.8 L448.0 124.5 L448.8 126.1 L449.7 128.1 L450.4 130.9 L450.9 133.8 L451.2 135.7 L451.4 137.8 L451.6 140.1 L451.8 142.6 L452.0 145.2 L452.2 147.9 L452.4 150.7 L452.6 153.6 L452.8 156.1 L452.9 158.2 L453.0 160.5 L453.1 162.8 L453.2 165.2 L453.3 167.6 L453.4 170.1 L453.5 172.6 L453.6 175.1 L453.7 177.6 L453.8 180.1 L453.9 182.6 L454.0 185.0 L454.1 187.5 L454.2 190.2 L454.4 193.0 L454.5 195.8 L454.7 198.7 L454.8 201.5 L454.9 204.2 L455.1 206.8 L455.2 209.2 L455.3 211.4 L455.4 213.3 L455.5 214.9 L455.5 215.6" stroke-width="1.05"/>
<path d="M121.8 322.4 C121.9 314.7 122.4 294.1 122.7 276.2 C123.0 258.2 123.3 231.6 123.6 214.5 C123.8 197.4 124.0 186.0 124.2 173.4 C124.5 160.7 124.8 148.5 125.1 138.6 C125.3 128.8 125.5 120.6 125.8 114.2 C126.0 107.8 126.3 105.7 126.6 100.2 C126.8 94.7 127.1 87.5 127.4 81.3 C127.7 75.1 128.0 68.5 128.3 63.1 C128.7 57.8 129.1 53.2 129.5 49.1 C129.9 45.0 130.1 42.1 130.7 38.4 C131.3 34.6 132.2 29.4 133.0 26.5 C133.8 23.5 134.7 21.4 135.6 20.4 C136.6 19.4 137.6 19.4 138.7 20.6 C139.7 21.8 141.1 25.0 142.0 27.8 C142.9 30.7 143.8 36.1 144.2 37.8" stroke-width="1.6"/>
<path d="M121.9 322.3 C121.9 318.6 122.0 307.7 122.1 300.0 C122.2 292.3 122.2 284.3 122.3 276.0 C122.4 267.7 122.6 254.3 122.7 250.0" stroke-width="1.9"/>
<path d="M122.7 250.0 C122.8 244.0 123.1 226.8 123.3 214.0 C123.5 201.2 123.7 185.6 124.0 173.0 C124.3 160.4 124.6 148.4 124.9 138.6 C125.2 128.8 125.4 120.9 125.7 114.2 C126.0 107.5 126.4 101.2 126.5 98.6" stroke-width="2.3"/>
<path d="M124.2 176.0 C124.3 180.0 124.7 192.7 124.8 200.0 C124.9 207.3 125.0 212.5 125.0 220.0 C125.0 227.5 124.9 238.0 124.9 245.0 C124.9 252.0 124.9 255.0 125.0 262.0 C125.1 269.0 125.3 282.8 125.4 287.0" stroke-width="2.4" stroke-linecap="butt"/>
<path d="M125.8 114.2 C125.9 111.9 126.3 105.5 126.6 100.0 C126.8 94.5 127.1 87.2 127.4 81.1 C127.7 74.9 128.0 68.5 128.4 63.1 C128.7 57.8 129.1 53.2 129.5 49.1 C129.9 45.0 130.2 42.1 130.7 38.4 C131.3 34.6 132.3 29.4 133.1 26.5 C133.9 23.5 135.2 21.4 135.7 20.4" stroke-width="2.4"/>
<path d="M433.5 126.4 C434.1 126.7 435.9 126.9 436.8 128.0 C437.7 129.1 438.3 130.7 438.9 133.0 C439.5 135.3 439.9 138.3 440.4 142.0 C440.9 145.7 441.5 150.3 441.8 155.0 C442.1 159.7 442.2 164.8 442.3 170.0 C442.4 175.2 442.4 183.3 442.4 186.0" stroke-width="1.05"/>
<path d="M144.2 37.8 L144.2 60.0"/>
</g>
<g fill="none" stroke="#1a1a1a" stroke-width="1">
<path d="M145.5 323.8L209.3 221.3"/>
<path d="M443.0 69.0L445.2 119.2"/>
<path d="M424.0 101.0L431.2 127.2"/>
<path d="M489.0 101.8L468.2 168.7"/>
<path d="M419.0 178.4L437.0 178.4"/>
<path d="M521.6 174.0L548.4 205.8"/>
<path d="M504.0 232.8L472.3 259.7"/>
<path d="M296.9 190.5L318.8 240.0"/>
<path d="M219.5 287.3L267.0 309.6"/>
</g>
<g font-family="Liberation Serif, serif" fill="#1c1c1c">
<text transform="translate(111.7 13.9) scale(1.060 1)" font-size="18.5" text-anchor="end" textLength="18.48" >25</text>
<text transform="translate(111.7 77.0) scale(1.060 1)" font-size="18.5" text-anchor="end" textLength="18.48" >20</text>
<text transform="translate(111.7 140.2) scale(1.060 1)" font-size="18.5" text-anchor="end" textLength="18.48" >15</text>
<text transform="translate(111.7 202.7) scale(1.060 1)" font-size="18.5" text-anchor="end" textLength="18.48" >10</text>
<text transform="translate(111.7 265.6) scale(1.060 1)" font-size="18.5" text-anchor="end" >5</text>
<text transform="translate(111.7 328.8) scale(1.060 1)" font-size="18.5" text-anchor="end" >0</text>
<text transform="translate(121.3 378.8) scale(1.060 1)" font-size="18.5" text-anchor="middle" >0</text>
<text transform="translate(199.6 378.8) scale(1.060 1)" font-size="18.5" text-anchor="middle" textLength="27.73" >100</text>
<text transform="translate(278.2 378.8) scale(1.060 1)" font-size="18.5" text-anchor="middle" textLength="27.73" >200</text>
<text transform="translate(356.8 378.8) scale(1.060 1)" font-size="18.5" text-anchor="middle" textLength="27.73" >300</text>
<text transform="translate(434.4 378.8) scale(1.060 1)" font-size="18.5" text-anchor="middle" textLength="27.73" >400</text>
<text transform="translate(512.5 378.8) scale(1.060 1)" font-size="18.5" text-anchor="middle" textLength="27.73" >500</text>
<text transform="translate(176.1 175.6) scale(1.060 1)" font-size="17.8" text-anchor="end" textLength="17.79" >24</text>
<text transform="translate(176.1 201.6) scale(1.060 1)" font-size="17.8" text-anchor="end" textLength="17.79" >20</text>
<text transform="translate(176.1 227.9) scale(1.060 1)" font-size="17.8" text-anchor="end" textLength="17.79" >16</text>
<text transform="translate(176.1 253.2) scale(1.060 1)" font-size="17.8" text-anchor="end" textLength="17.79" >12</text>
<text transform="translate(173.8 279.6) scale(1.060 1)" font-size="17.8" text-anchor="end" >8</text>
<text transform="translate(173.8 305.8) scale(1.060 1)" font-size="17.8" text-anchor="end" >4</text>
<text transform="translate(173.8 332.8) scale(1.060 1)" font-size="17.8" text-anchor="end" >0</text>
<text transform="translate(202.0 345.5) scale(1.060 1)" font-size="18.0" text-anchor="middle" >0</text>
<text transform="translate(234.6 345.5) scale(1.060 1)" font-size="18.0" text-anchor="middle" textLength="17.98" >10</text>
<text transform="translate(267.2 345.5) scale(1.060 1)" font-size="18.0" text-anchor="middle" textLength="17.98" >20</text>
<text transform="translate(299.0 345.5) scale(1.060 1)" font-size="18.0" text-anchor="middle" textLength="17.98" >30</text>
<text transform="translate(330.6 345.5) scale(1.060 1)" font-size="18.0" text-anchor="middle" textLength="17.98" >40</text>
<text transform="translate(363.0 345.5) scale(1.060 1)" font-size="18.0" text-anchor="middle" textLength="17.98" >50</text>
<text transform="translate(395.0 345.5) scale(1.060 1)" font-size="18.0" text-anchor="middle" textLength="17.98" >60</text>
<text transform="translate(396.2 67.0) scale(1.040 1)" font-size="19.3" text-anchor="start" textLength="75.00" >0.30 MPa</text>
<text transform="translate(358.8 100.2) scale(1.040 1)" font-size="19.3" text-anchor="start" textLength="75.00" >0.07 MPa</text>
<text transform="translate(448.6 100.2) scale(1.040 1)" font-size="19.3" text-anchor="start" textLength="70.18" >0.20MPa</text>
<text transform="translate(337.8 183.5) scale(1.040 1)" font-size="19.3" text-anchor="start" textLength="75.00" >0.15 MPa</text>
<text transform="translate(515.8 221.7) scale(1.040 1)" font-size="19.3" text-anchor="start" textLength="75.00" >0.45 MPa</text>
<text transform="translate(436.7 282.5) scale(1.040 1)" font-size="19.3" text-anchor="start" textLength="70.18" >0.10MPa</text>
<text transform="translate(287.6 265.9) scale(1.040 1)" font-size="19.3" text-anchor="start" textLength="75.00" >0.60 MPa</text>
<text transform="translate(269.2 322.0) scale(1.040 1)" font-size="19.3" text-anchor="start" textLength="75.00" >0.02 MPa</text>
<text transform="translate(334.7 403.8) scale(1.000 1)" font-size="21.0" text-anchor="start" >%</text>
<text transform="translate(160.0 434.3) scale(1.000 1)" font-size="20.5" text-anchor="start" >8</text>
<text transform="translate(191.7 434.3) scale(1.012 1)" font-size="20.5" text-anchor="start" textLength="125.79" >DN160 SDR17</text>
<text transform="translate(412.5 434.3) scale(1.000 1)" font-size="20.5" text-anchor="start" >-</text>
<text transform="translate(68 188.8) rotate(-90)" font-size="19.6" textLength="37.03">MPa</text>
</g>
<g stroke="#1c1c1c" stroke-width="1.3" fill="none"><path d="M320.8 405.2L327.2 388.9"/><path d="M54.9 194.4L70.6 203.2"/></g>
<g fill="#1c1c1c" font-family="&quot;Liberation Serif&quot;, &quot;Noto Serif CJK SC&quot;, serif">
<text x="133.6" y="434.3" font-size="21">图</text>
<text x="324.3 344.75 365.2 385.65" y="434.3" font-size="21">拉伸应力</text>
<text x="423.9 444.33 464.76 485.19" y="434.3" font-size="21">应变曲线</text>
<text x="275 294.7" y="403.8" font-size="20.5">应变</text>
<text transform="translate(69 248.3) rotate(-90)" x="0 19.7" y="0" font-size="19.5">应力</text>
</g>
</svg>
</body>
</html>
